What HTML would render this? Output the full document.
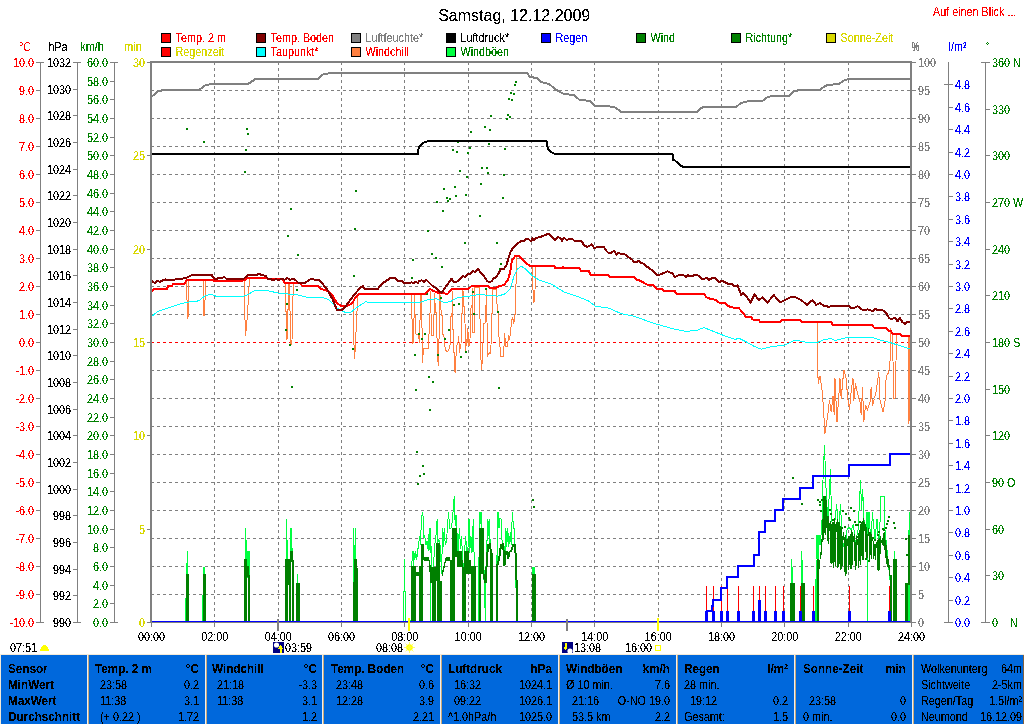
<!DOCTYPE html>
<html><head><meta charset="utf-8"><title>Samstag, 12.12.2009</title>
<style>html,body{margin:0;padding:0;background:#fff;overflow:hidden}svg{display:block}text{font-family:"Liberation Sans",sans-serif;}</style></head><body>
<svg width="1024" height="724" viewBox="0 0 1024 724" shape-rendering="crispEdges">
<rect x="0.0" y="0.0" width="1024.0" height="724.0" fill="#fff" />
<defs><filter id="cr" x="0" y="0" width="1024" height="724" filterUnits="userSpaceOnUse" color-interpolation-filters="sRGB"><feComponentTransfer><feFuncA type="discrete" tableValues="0 0 0 0 0 0 0 0 0 0 0 0 0 0 0 0 0 0 0 0 0 1 1 1 1 1 1 1 1 1 1 1 1 1 1 1 1 1 1 1 1 1 1 1 1 1 1 1 1 1"/></feComponentTransfer></filter></defs>
<rect x="161.5" y="33.5" width="9" height="9" fill="#ff0000" stroke="#000" stroke-width="1"/>
<rect x="161.5" y="47.5" width="9" height="9" fill="#ff0000" stroke="#000" stroke-width="1"/>
<rect x="256.5" y="33.5" width="9" height="9" fill="#800000" stroke="#000" stroke-width="1"/>
<rect x="256.5" y="47.5" width="9" height="9" fill="#00ffff" stroke="#000" stroke-width="1"/>
<rect x="351.5" y="33.5" width="9" height="9" fill="#808080" stroke="#000" stroke-width="1"/>
<rect x="351.5" y="47.5" width="9" height="9" fill="#ff8040" stroke="#000" stroke-width="1"/>
<rect x="446.5" y="33.5" width="9" height="9" fill="#000" stroke="#000" stroke-width="1"/>
<rect x="446.5" y="47.5" width="9" height="9" fill="#00ff40" stroke="#000" stroke-width="1"/>
<rect x="541.5" y="33.5" width="9" height="9" fill="#0000ff" stroke="#000" stroke-width="1"/>
<rect x="636.5" y="33.5" width="9" height="9" fill="#008000" stroke="#000" stroke-width="1"/>
<rect x="731.5" y="33.5" width="9" height="9" fill="#008000" stroke="#000" stroke-width="1"/>
<rect x="826.5" y="33.5" width="9" height="9" fill="#d8d800" stroke="#000" stroke-width="1"/>
<rect x="987.0" y="42.0" width="1.0" height="1.0" fill="#008000" />
<rect x="986.0" y="43.0" width="1.0" height="1.0" fill="#008000" />
<rect x="988.0" y="43.0" width="1.0" height="1.0" fill="#008000" />
<rect x="987.0" y="44.0" width="1.0" height="1.0" fill="#008000" />
<rect x="40.0" y="62.0" width="1.0" height="561.0" fill="#808080" />
<rect x="36.0" y="62.0" width="8.0" height="1.0" fill="#808080" />
<rect x="36.0" y="90.0" width="4.0" height="1.0" fill="#808080" />
<rect x="36.0" y="118.0" width="4.0" height="1.0" fill="#808080" />
<rect x="36.0" y="146.0" width="4.0" height="1.0" fill="#808080" />
<rect x="36.0" y="174.0" width="4.0" height="1.0" fill="#808080" />
<rect x="36.0" y="202.0" width="4.0" height="1.0" fill="#808080" />
<rect x="36.0" y="230.0" width="4.0" height="1.0" fill="#808080" />
<rect x="36.0" y="258.0" width="4.0" height="1.0" fill="#808080" />
<rect x="36.0" y="286.0" width="4.0" height="1.0" fill="#808080" />
<rect x="36.0" y="314.0" width="4.0" height="1.0" fill="#808080" />
<rect x="36.0" y="342.0" width="4.0" height="1.0" fill="#808080" />
<rect x="36.0" y="370.0" width="4.0" height="1.0" fill="#808080" />
<rect x="36.0" y="398.0" width="4.0" height="1.0" fill="#808080" />
<rect x="36.0" y="426.0" width="4.0" height="1.0" fill="#808080" />
<rect x="36.0" y="454.0" width="4.0" height="1.0" fill="#808080" />
<rect x="36.0" y="482.0" width="4.0" height="1.0" fill="#808080" />
<rect x="36.0" y="510.0" width="4.0" height="1.0" fill="#808080" />
<rect x="36.0" y="538.0" width="4.0" height="1.0" fill="#808080" />
<rect x="36.0" y="566.0" width="4.0" height="1.0" fill="#808080" />
<rect x="36.0" y="594.0" width="4.0" height="1.0" fill="#808080" />
<rect x="36.0" y="622.0" width="8.0" height="1.0" fill="#808080" />
<rect x="77.0" y="62.0" width="1.0" height="561.0" fill="#808080" />
<rect x="73.0" y="62.0" width="8.0" height="1.0" fill="#808080" />
<rect x="73.0" y="89.0" width="4.0" height="1.0" fill="#808080" />
<rect x="73.0" y="115.0" width="4.0" height="1.0" fill="#808080" />
<rect x="73.0" y="142.0" width="4.0" height="1.0" fill="#808080" />
<rect x="73.0" y="169.0" width="4.0" height="1.0" fill="#808080" />
<rect x="73.0" y="195.0" width="4.0" height="1.0" fill="#808080" />
<rect x="73.0" y="222.0" width="4.0" height="1.0" fill="#808080" />
<rect x="73.0" y="249.0" width="4.0" height="1.0" fill="#808080" />
<rect x="73.0" y="275.0" width="4.0" height="1.0" fill="#808080" />
<rect x="73.0" y="302.0" width="4.0" height="1.0" fill="#808080" />
<rect x="73.0" y="329.0" width="4.0" height="1.0" fill="#808080" />
<rect x="73.0" y="355.0" width="4.0" height="1.0" fill="#808080" />
<rect x="73.0" y="382.0" width="4.0" height="1.0" fill="#808080" />
<rect x="73.0" y="409.0" width="4.0" height="1.0" fill="#808080" />
<rect x="73.0" y="435.0" width="4.0" height="1.0" fill="#808080" />
<rect x="73.0" y="462.0" width="4.0" height="1.0" fill="#808080" />
<rect x="73.0" y="489.0" width="4.0" height="1.0" fill="#808080" />
<rect x="73.0" y="515.0" width="4.0" height="1.0" fill="#808080" />
<rect x="73.0" y="542.0" width="4.0" height="1.0" fill="#808080" />
<rect x="73.0" y="569.0" width="4.0" height="1.0" fill="#808080" />
<rect x="73.0" y="595.0" width="4.0" height="1.0" fill="#808080" />
<rect x="73.0" y="622.0" width="8.0" height="1.0" fill="#808080" />
<rect x="114.0" y="62.0" width="1.0" height="561.0" fill="#808080" />
<rect x="110.0" y="62.0" width="8.0" height="1.0" fill="#808080" />
<rect x="110.0" y="81.0" width="4.0" height="1.0" fill="#808080" />
<rect x="110.0" y="99.0" width="4.0" height="1.0" fill="#808080" />
<rect x="110.0" y="118.0" width="4.0" height="1.0" fill="#808080" />
<rect x="110.0" y="137.0" width="4.0" height="1.0" fill="#808080" />
<rect x="110.0" y="155.0" width="4.0" height="1.0" fill="#808080" />
<rect x="110.0" y="174.0" width="4.0" height="1.0" fill="#808080" />
<rect x="110.0" y="193.0" width="4.0" height="1.0" fill="#808080" />
<rect x="110.0" y="211.0" width="4.0" height="1.0" fill="#808080" />
<rect x="110.0" y="230.0" width="4.0" height="1.0" fill="#808080" />
<rect x="110.0" y="249.0" width="4.0" height="1.0" fill="#808080" />
<rect x="110.0" y="267.0" width="4.0" height="1.0" fill="#808080" />
<rect x="110.0" y="286.0" width="4.0" height="1.0" fill="#808080" />
<rect x="110.0" y="305.0" width="4.0" height="1.0" fill="#808080" />
<rect x="110.0" y="323.0" width="4.0" height="1.0" fill="#808080" />
<rect x="110.0" y="342.0" width="4.0" height="1.0" fill="#808080" />
<rect x="110.0" y="361.0" width="4.0" height="1.0" fill="#808080" />
<rect x="110.0" y="379.0" width="4.0" height="1.0" fill="#808080" />
<rect x="110.0" y="398.0" width="4.0" height="1.0" fill="#808080" />
<rect x="110.0" y="417.0" width="4.0" height="1.0" fill="#808080" />
<rect x="110.0" y="435.0" width="4.0" height="1.0" fill="#808080" />
<rect x="110.0" y="454.0" width="4.0" height="1.0" fill="#808080" />
<rect x="110.0" y="473.0" width="4.0" height="1.0" fill="#808080" />
<rect x="110.0" y="491.0" width="4.0" height="1.0" fill="#808080" />
<rect x="110.0" y="510.0" width="4.0" height="1.0" fill="#808080" />
<rect x="110.0" y="529.0" width="4.0" height="1.0" fill="#808080" />
<rect x="110.0" y="547.0" width="4.0" height="1.0" fill="#808080" />
<rect x="110.0" y="566.0" width="4.0" height="1.0" fill="#808080" />
<rect x="110.0" y="585.0" width="4.0" height="1.0" fill="#808080" />
<rect x="110.0" y="603.0" width="4.0" height="1.0" fill="#808080" />
<rect x="110.0" y="622.0" width="8.0" height="1.0" fill="#808080" />
<rect x="147.0" y="62.0" width="3.0" height="1.0" fill="#808080" />
<rect x="147.0" y="155.0" width="3.0" height="1.0" fill="#808080" />
<rect x="147.0" y="249.0" width="3.0" height="1.0" fill="#808080" />
<rect x="147.0" y="342.0" width="3.0" height="1.0" fill="#808080" />
<rect x="147.0" y="435.0" width="3.0" height="1.0" fill="#808080" />
<rect x="147.0" y="529.0" width="3.0" height="1.0" fill="#808080" />
<rect x="147.0" y="622.0" width="3.0" height="1.0" fill="#808080" />
<rect x="912.0" y="62.0" width="4.0" height="1.0" fill="#808080" />
<rect x="912.0" y="90.0" width="4.0" height="1.0" fill="#808080" />
<rect x="912.0" y="118.0" width="4.0" height="1.0" fill="#808080" />
<rect x="912.0" y="146.0" width="4.0" height="1.0" fill="#808080" />
<rect x="912.0" y="174.0" width="4.0" height="1.0" fill="#808080" />
<rect x="912.0" y="202.0" width="4.0" height="1.0" fill="#808080" />
<rect x="912.0" y="230.0" width="4.0" height="1.0" fill="#808080" />
<rect x="912.0" y="258.0" width="4.0" height="1.0" fill="#808080" />
<rect x="912.0" y="286.0" width="4.0" height="1.0" fill="#808080" />
<rect x="912.0" y="314.0" width="4.0" height="1.0" fill="#808080" />
<rect x="912.0" y="342.0" width="4.0" height="1.0" fill="#808080" />
<rect x="912.0" y="370.0" width="4.0" height="1.0" fill="#808080" />
<rect x="912.0" y="398.0" width="4.0" height="1.0" fill="#808080" />
<rect x="912.0" y="426.0" width="4.0" height="1.0" fill="#808080" />
<rect x="912.0" y="454.0" width="4.0" height="1.0" fill="#808080" />
<rect x="912.0" y="482.0" width="4.0" height="1.0" fill="#808080" />
<rect x="912.0" y="510.0" width="4.0" height="1.0" fill="#808080" />
<rect x="912.0" y="538.0" width="4.0" height="1.0" fill="#808080" />
<rect x="912.0" y="566.0" width="4.0" height="1.0" fill="#808080" />
<rect x="912.0" y="594.0" width="4.0" height="1.0" fill="#808080" />
<rect x="912.0" y="622.0" width="4.0" height="1.0" fill="#808080" />
<rect x="948.0" y="62.0" width="1.0" height="561.0" fill="#808080" />
<rect x="944.0" y="84.0" width="9.0" height="1.0" fill="#808080" />
<rect x="949.0" y="107.0" width="4.0" height="1.0" fill="#808080" />
<rect x="949.0" y="129.0" width="4.0" height="1.0" fill="#808080" />
<rect x="949.0" y="152.0" width="4.0" height="1.0" fill="#808080" />
<rect x="949.0" y="174.0" width="4.0" height="1.0" fill="#808080" />
<rect x="949.0" y="196.0" width="4.0" height="1.0" fill="#808080" />
<rect x="949.0" y="219.0" width="4.0" height="1.0" fill="#808080" />
<rect x="949.0" y="241.0" width="4.0" height="1.0" fill="#808080" />
<rect x="949.0" y="264.0" width="4.0" height="1.0" fill="#808080" />
<rect x="949.0" y="286.0" width="4.0" height="1.0" fill="#808080" />
<rect x="949.0" y="308.0" width="4.0" height="1.0" fill="#808080" />
<rect x="949.0" y="331.0" width="4.0" height="1.0" fill="#808080" />
<rect x="949.0" y="353.0" width="4.0" height="1.0" fill="#808080" />
<rect x="949.0" y="376.0" width="4.0" height="1.0" fill="#808080" />
<rect x="949.0" y="398.0" width="4.0" height="1.0" fill="#808080" />
<rect x="949.0" y="420.0" width="4.0" height="1.0" fill="#808080" />
<rect x="949.0" y="443.0" width="4.0" height="1.0" fill="#808080" />
<rect x="949.0" y="465.0" width="4.0" height="1.0" fill="#808080" />
<rect x="949.0" y="488.0" width="4.0" height="1.0" fill="#808080" />
<rect x="949.0" y="510.0" width="4.0" height="1.0" fill="#808080" />
<rect x="949.0" y="532.0" width="4.0" height="1.0" fill="#808080" />
<rect x="949.0" y="555.0" width="4.0" height="1.0" fill="#808080" />
<rect x="949.0" y="577.0" width="4.0" height="1.0" fill="#808080" />
<rect x="949.0" y="600.0" width="4.0" height="1.0" fill="#808080" />
<rect x="944.0" y="622.0" width="9.0" height="1.0" fill="#808080" />
<rect x="985.0" y="62.0" width="1.0" height="561.0" fill="#808080" />
<rect x="981.0" y="62.0" width="9.0" height="1.0" fill="#808080" />
<rect x="986.0" y="109.0" width="4.0" height="1.0" fill="#808080" />
<rect x="986.0" y="155.0" width="4.0" height="1.0" fill="#808080" />
<rect x="986.0" y="202.0" width="4.0" height="1.0" fill="#808080" />
<rect x="986.0" y="249.0" width="4.0" height="1.0" fill="#808080" />
<rect x="986.0" y="295.0" width="4.0" height="1.0" fill="#808080" />
<rect x="986.0" y="342.0" width="4.0" height="1.0" fill="#808080" />
<rect x="986.0" y="389.0" width="4.0" height="1.0" fill="#808080" />
<rect x="986.0" y="435.0" width="4.0" height="1.0" fill="#808080" />
<rect x="986.0" y="482.0" width="4.0" height="1.0" fill="#808080" />
<rect x="986.0" y="529.0" width="4.0" height="1.0" fill="#808080" />
<rect x="986.0" y="575.0" width="4.0" height="1.0" fill="#808080" />
<rect x="981.0" y="622.0" width="9.0" height="1.0" fill="#808080" />
<g>
<line x1="214.5" y1="62" x2="214.5" y2="622" stroke="#808080" stroke-width="1" stroke-dasharray="3 3"/>
<line x1="278.5" y1="62" x2="278.5" y2="622" stroke="#808080" stroke-width="1" stroke-dasharray="3 3"/>
<line x1="341.5" y1="62" x2="341.5" y2="622" stroke="#808080" stroke-width="1" stroke-dasharray="3 3"/>
<line x1="404.5" y1="62" x2="404.5" y2="622" stroke="#808080" stroke-width="1" stroke-dasharray="3 3"/>
<line x1="468.5" y1="62" x2="468.5" y2="622" stroke="#808080" stroke-width="1" stroke-dasharray="3 3"/>
<line x1="531.5" y1="62" x2="531.5" y2="622" stroke="#808080" stroke-width="1" stroke-dasharray="3 3"/>
<line x1="594.5" y1="62" x2="594.5" y2="622" stroke="#808080" stroke-width="1" stroke-dasharray="3 3"/>
<line x1="658.5" y1="62" x2="658.5" y2="622" stroke="#808080" stroke-width="1" stroke-dasharray="3 3"/>
<line x1="721.5" y1="62" x2="721.5" y2="622" stroke="#808080" stroke-width="1" stroke-dasharray="3 3"/>
<line x1="784.5" y1="62" x2="784.5" y2="622" stroke="#808080" stroke-width="1" stroke-dasharray="3 3"/>
<line x1="848.5" y1="62" x2="848.5" y2="622" stroke="#808080" stroke-width="1" stroke-dasharray="3 3"/>
<line x1="151" y1="90.5" x2="912" y2="90.5" stroke="#808080" stroke-width="1" stroke-dasharray="3 3"/>
<line x1="151" y1="118.5" x2="912" y2="118.5" stroke="#808080" stroke-width="1" stroke-dasharray="3 3"/>
<line x1="151" y1="146.5" x2="912" y2="146.5" stroke="#808080" stroke-width="1" stroke-dasharray="3 3"/>
<line x1="151" y1="174.5" x2="912" y2="174.5" stroke="#808080" stroke-width="1" stroke-dasharray="3 3"/>
<line x1="151" y1="202.5" x2="912" y2="202.5" stroke="#808080" stroke-width="1" stroke-dasharray="3 3"/>
<line x1="151" y1="230.5" x2="912" y2="230.5" stroke="#808080" stroke-width="1" stroke-dasharray="3 3"/>
<line x1="151" y1="258.5" x2="912" y2="258.5" stroke="#808080" stroke-width="1" stroke-dasharray="3 3"/>
<line x1="151" y1="286.5" x2="912" y2="286.5" stroke="#808080" stroke-width="1" stroke-dasharray="3 3"/>
<line x1="151" y1="314.5" x2="912" y2="314.5" stroke="#808080" stroke-width="1" stroke-dasharray="3 3"/>
<line x1="151" y1="370.5" x2="912" y2="370.5" stroke="#808080" stroke-width="1" stroke-dasharray="3 3"/>
<line x1="151" y1="398.5" x2="912" y2="398.5" stroke="#808080" stroke-width="1" stroke-dasharray="3 3"/>
<line x1="151" y1="426.5" x2="912" y2="426.5" stroke="#808080" stroke-width="1" stroke-dasharray="3 3"/>
<line x1="151" y1="454.5" x2="912" y2="454.5" stroke="#808080" stroke-width="1" stroke-dasharray="3 3"/>
<line x1="151" y1="482.5" x2="912" y2="482.5" stroke="#808080" stroke-width="1" stroke-dasharray="3 3"/>
<line x1="151" y1="510.5" x2="912" y2="510.5" stroke="#808080" stroke-width="1" stroke-dasharray="3 3"/>
<line x1="151" y1="538.5" x2="912" y2="538.5" stroke="#808080" stroke-width="1" stroke-dasharray="3 3"/>
<line x1="151" y1="566.5" x2="912" y2="566.5" stroke="#808080" stroke-width="1" stroke-dasharray="3 3"/>
<line x1="151" y1="594.5" x2="912" y2="594.5" stroke="#808080" stroke-width="1" stroke-dasharray="3 3"/>
<line x1="151" y1="342.5" x2="912" y2="342.5" stroke="#ff0000" stroke-width="1" stroke-dasharray="3 3"/>
<polyline points="411.0,621.0 411.8,566.2 412.4,551.0 413.3,566.2 413.7,551.0 414.9,559.5 415.6,551.0 416.8,559.5 417.5,551.0 418.7,545.2 419.4,535.7 420.6,545.2 421.3,518.6 422.5,511.9 423.6,520.5 424.0,537.6 424.8,535.7 425.9,545.2 427.0,541.4 428.2,551.0 429.3,528.1 430.1,552.9 430.5,528.1 431.6,566.2 432.8,587.1 433.5,566.2 434.7,545.2 435.8,537.6 437.1,519.5 437.7,543.3 439.0,539.5 440.4,547.1 441.5,573.8 442.7,528.1 443.4,547.1 444.2,528.1 445.3,545.2 446.5,541.4 447.6,524.3 448.6,511.9 449.5,528.1 451.0,528.1 452.4,520.5 454.3,495.7 455.2,526.2 456.0,514.8 456.8,528.1 457.9,552.9 459.4,528.1 460.6,549.0 461.3,535.7 462.5,552.9 463.2,585.2 464.4,552.9 465.7,535.7 466.7,551.0 467.8,552.9 469.0,518.6 469.7,552.9 470.9,535.7 472.0,552.9 473.3,518.6 474.3,566.2 475.8,621.0 478.5,621.0 478.9,566.2 479.6,511.9 480.8,514.8 481.9,528.1 483.0,545.2 483.8,573.8 485.0,606.2 485.7,585.2 486.9,545.2 487.6,518.6 488.4,535.7 489.1,518.6 490.3,545.2 491.4,552.9 493.0,621.0 496.8,621.0 497.1,559.5 498.1,511.9 499.0,524.3 500.0,528.1" fill="none" stroke="#00ff40" stroke-width="1" />
<polyline points="480.0,524.3 481.0,511.9 481.9,528.1 484.2,573.8 485.3,621.0 485.3,585.2 486.5,552.9 487.2,535.7 487.6,518.6 488.4,533.8 489.1,518.6 489.9,545.2 491.4,552.9 492.6,621.0 496.4,621.0 496.8,573.8 497.5,511.9 498.7,528.1 499.8,518.6 501.0,518.6 502.1,541.4 503.6,544.3 505.1,551.0 505.9,528.1 506.7,547.1 507.8,528.1 508.6,547.1 509.7,539.5 510.5,531.9 511.2,545.2 512.4,511.9 513.5,528.1 514.3,528.1 515.0,544.3 515.8,585.2 516.2,591.0" fill="none" stroke="#00ff40" stroke-width="1" />
<polyline points="816.0,621.0 816.0,560.0 817.0,535.0 818.0,560.0 819.0,535.0 820.0,545.0 821.0,535.0 822.0,520.0 823.0,480.0 824.5,445.0 825.5,475.0 826.5,500.0 828.0,520.0 830.5,469.0 831.5,520.0 834.0,530.0 836.7,504.0 838.5,530.0 840.6,504.0 842.0,540.0 845.0,550.0 847.0,530.0 849.0,527.0 851.0,530.0 853.6,524.0 855.0,545.0 858.0,530.0 860.6,480.0 861.5,510.0 862.7,489.0 864.0,520.0 866.0,530.0 867.0,512.0 867.5,621.0 867.5,540.0 869.0,512.0 871.0,545.0 872.4,512.0 875.0,540.0 877.0,519.0 879.0,550.0 881.0,496.0 884.0,496.0 885.0,530.0 888.0,560.0 890.0,580.0" fill="none" stroke="#00ff40" stroke-width="1" />
<rect x="185.0" y="598.0" width="1.0" height="23.0" fill="#00ff40" />
<rect x="186.0" y="563.0" width="1.0" height="58.0" fill="#00ff40" />
<rect x="187.0" y="551.0" width="1.0" height="70.0" fill="#00ff40" />
<rect x="202.0" y="595.0" width="1.0" height="26.0" fill="#00ff40" />
<rect x="203.0" y="567.0" width="1.0" height="54.0" fill="#00ff40" />
<rect x="204.0" y="567.0" width="1.0" height="54.0" fill="#00ff40" />
<rect x="245.0" y="528.0" width="1.0" height="93.0" fill="#00ff40" />
<rect x="246.0" y="540.0" width="1.0" height="81.0" fill="#00ff40" />
<rect x="247.0" y="551.0" width="1.0" height="70.0" fill="#00ff40" />
<rect x="248.0" y="551.0" width="1.0" height="70.0" fill="#00ff40" />
<rect x="249.0" y="551.0" width="1.0" height="70.0" fill="#00ff40" />
<rect x="286.0" y="519.0" width="1.0" height="102.0" fill="#00ff40" />
<rect x="287.0" y="540.0" width="1.0" height="81.0" fill="#00ff40" />
<rect x="290.0" y="528.0" width="1.0" height="93.0" fill="#00ff40" />
<rect x="291.0" y="528.0" width="1.0" height="93.0" fill="#00ff40" />
<rect x="292.0" y="548.0" width="1.0" height="73.0" fill="#00ff40" />
<rect x="297.0" y="574.0" width="1.0" height="47.0" fill="#00ff40" />
<rect x="353.0" y="528.0" width="1.0" height="93.0" fill="#00ff40" />
<rect x="354.0" y="545.0" width="1.0" height="76.0" fill="#00ff40" />
<rect x="355.0" y="528.0" width="1.0" height="93.0" fill="#00ff40" />
<rect x="403.0" y="591.0" width="1.0" height="30.0" fill="#00ff40" />
<rect x="404.0" y="559.0" width="1.0" height="62.0" fill="#00ff40" />
<rect x="405.0" y="591.0" width="1.0" height="30.0" fill="#00ff40" />
<rect x="532.0" y="567.0" width="1.0" height="54.0" fill="#00ff40" />
<rect x="534.0" y="567.0" width="1.0" height="54.0" fill="#00ff40" />
<rect x="533.0" y="567.0" width="1.0" height="54.0" fill="#00ff40" />
<rect x="790.0" y="591.0" width="1.0" height="30.0" fill="#00ff40" />
<rect x="791.0" y="559.0" width="1.0" height="62.0" fill="#00ff40" />
<rect x="792.0" y="567.0" width="1.0" height="54.0" fill="#00ff40" />
<rect x="800.0" y="587.0" width="1.0" height="34.0" fill="#00ff40" />
<rect x="801.0" y="551.0" width="1.0" height="70.0" fill="#00ff40" />
<rect x="802.0" y="560.0" width="1.0" height="61.0" fill="#00ff40" />
<rect x="815.0" y="579.0" width="1.0" height="42.0" fill="#00ff40" />
<rect x="430.0" y="583.0" width="1.0" height="38.0" fill="#00ff40" />
<rect x="894.0" y="551.0" width="1.0" height="70.0" fill="#00ff40" />
<rect x="909.0" y="512.0" width="1.0" height="109.0" fill="#00ff40" />
<rect x="908.0" y="530.0" width="1.0" height="91.0" fill="#00ff40" />
<rect x="867.0" y="540.0" width="1.0" height="81.0" fill="#00ff40" />
<rect x="186.0" y="574.0" width="3.0" height="47.0" fill="#008000" />
<rect x="203.0" y="574.0" width="3.0" height="47.0" fill="#008000" />
<rect x="244.0" y="559.0" width="3.0" height="62.0" fill="#008000" />
<rect x="248.0" y="575.0" width="2.0" height="46.0" fill="#008000" />
<rect x="247.0" y="566.0" width="2.0" height="11.0" fill="#008000" />
<rect x="285.0" y="559.0" width="6.0" height="62.0" fill="#008000" />
<rect x="289.5" y="551.0" width="3.5" height="70.0" fill="#008000" />
<rect x="292.5" y="560.0" width="1.5" height="61.0" fill="#008000" />
<rect x="296.0" y="583.0" width="4.0" height="38.0" fill="#008000" />
<rect x="353.0" y="582.0" width="1.0" height="39.0" fill="#008000" />
<rect x="354.0" y="559.0" width="2.5" height="62.0" fill="#008000" />
<rect x="357.0" y="568.0" width="1.0" height="53.0" fill="#008000" />
<rect x="532.0" y="574.0" width="4.0" height="47.0" fill="#008000" />
<rect x="790.0" y="582.5" width="5.0" height="38.5" fill="#008000" />
<rect x="801.0" y="583.0" width="3.5" height="38.0" fill="#008000" />
<rect x="411.0" y="566.0" width="1.0" height="55.0" fill="#008000" />
<rect x="412.0" y="566.0" width="1.0" height="55.0" fill="#008000" />
<rect x="413.0" y="566.0" width="1.0" height="55.0" fill="#008000" />
<rect x="414.0" y="566.0" width="1.0" height="55.0" fill="#008000" />
<rect x="415.0" y="566.0" width="1.0" height="55.0" fill="#008000" />
<rect x="416.0" y="572.0" width="1.0" height="4.0" fill="#008000" />
<rect x="417.0" y="572.0" width="1.0" height="4.0" fill="#008000" />
<rect x="418.0" y="572.0" width="1.0" height="4.0" fill="#008000" />
<rect x="419.0" y="566.0" width="1.0" height="55.0" fill="#008000" />
<rect x="420.0" y="566.0" width="1.0" height="55.0" fill="#008000" />
<rect x="421.0" y="544.0" width="1.0" height="77.0" fill="#008000" />
<rect x="422.0" y="544.0" width="1.0" height="77.0" fill="#008000" />
<rect x="423.0" y="544.0" width="1.0" height="16.0" fill="#008000" />
<rect x="424.0" y="557.0" width="1.0" height="4.0" fill="#008000" />
<rect x="425.0" y="557.0" width="1.0" height="4.0" fill="#008000" />
<rect x="426.0" y="557.0" width="1.0" height="4.0" fill="#008000" />
<rect x="427.0" y="557.0" width="1.0" height="4.0" fill="#008000" />
<rect x="428.0" y="557.0" width="1.0" height="4.0" fill="#008000" />
<rect x="429.0" y="560.0" width="1.0" height="12.0" fill="#008000" />
<rect x="430.0" y="565.0" width="1.0" height="18.0" fill="#008000" />
<rect x="431.0" y="567.0" width="1.0" height="16.0" fill="#008000" />
<rect x="432.0" y="567.0" width="1.0" height="54.0" fill="#008000" />
<rect x="433.0" y="567.0" width="1.0" height="54.0" fill="#008000" />
<rect x="434.0" y="567.0" width="1.0" height="54.0" fill="#008000" />
<rect x="435.0" y="567.0" width="1.0" height="54.0" fill="#008000" />
<rect x="436.0" y="543.0" width="1.0" height="78.0" fill="#008000" />
<rect x="437.0" y="543.0" width="1.0" height="78.0" fill="#008000" />
<rect x="438.0" y="543.0" width="1.0" height="78.0" fill="#008000" />
<rect x="439.0" y="543.0" width="1.0" height="78.0" fill="#008000" />
<rect x="440.0" y="581.0" width="1.0" height="40.0" fill="#008000" />
<rect x="441.0" y="581.0" width="1.0" height="40.0" fill="#008000" />
<rect x="442.0" y="570.0" width="1.0" height="6.0" fill="#008000" />
<rect x="443.0" y="566.0" width="1.0" height="6.0" fill="#008000" />
<rect x="444.0" y="562.0" width="1.0" height="6.0" fill="#008000" />
<rect x="445.0" y="558.0" width="1.0" height="5.0" fill="#008000" />
<rect x="446.0" y="557.0" width="1.0" height="4.0" fill="#008000" />
<rect x="447.0" y="557.0" width="1.0" height="4.0" fill="#008000" />
<rect x="448.0" y="557.0" width="1.0" height="4.0" fill="#008000" />
<rect x="449.0" y="557.0" width="1.0" height="4.0" fill="#008000" />
<rect x="450.0" y="560.0" width="1.0" height="61.0" fill="#008000" />
<rect x="451.0" y="560.0" width="1.0" height="61.0" fill="#008000" />
<rect x="452.0" y="528.0" width="1.0" height="93.0" fill="#008000" />
<rect x="453.0" y="528.0" width="1.0" height="93.0" fill="#008000" />
<rect x="454.0" y="528.0" width="1.0" height="93.0" fill="#008000" />
<rect x="455.0" y="528.0" width="1.0" height="29.0" fill="#008000" />
<rect x="456.0" y="528.0" width="1.0" height="29.0" fill="#008000" />
<rect x="457.0" y="551.0" width="1.0" height="16.0" fill="#008000" />
<rect x="458.0" y="551.0" width="1.0" height="16.0" fill="#008000" />
<rect x="459.0" y="551.0" width="1.0" height="16.0" fill="#008000" />
<rect x="460.0" y="551.0" width="1.0" height="16.0" fill="#008000" />
<rect x="461.0" y="551.0" width="1.0" height="16.0" fill="#008000" />
<rect x="462.0" y="560.0" width="1.0" height="61.0" fill="#008000" />
<rect x="463.0" y="567.0" width="1.0" height="54.0" fill="#008000" />
<rect x="464.0" y="551.0" width="1.0" height="70.0" fill="#008000" />
<rect x="465.0" y="551.0" width="1.0" height="70.0" fill="#008000" />
<rect x="466.0" y="551.0" width="1.0" height="23.0" fill="#008000" />
<rect x="467.0" y="551.0" width="1.0" height="23.0" fill="#008000" />
<rect x="468.0" y="551.0" width="1.0" height="23.0" fill="#008000" />
<rect x="469.0" y="560.0" width="1.0" height="14.0" fill="#008000" />
<rect x="470.0" y="560.0" width="1.0" height="14.0" fill="#008000" />
<rect x="471.0" y="566.0" width="1.0" height="55.0" fill="#008000" />
<rect x="472.0" y="566.0" width="1.0" height="55.0" fill="#008000" />
<rect x="473.0" y="566.0" width="1.0" height="55.0" fill="#008000" />
<rect x="474.0" y="566.0" width="1.0" height="55.0" fill="#008000" />
<rect x="475.0" y="566.0" width="1.0" height="55.0" fill="#008000" />
<rect x="479.0" y="528.0" width="1.0" height="93.0" fill="#008000" />
<rect x="480.0" y="528.0" width="1.0" height="93.0" fill="#008000" />
<rect x="481.0" y="528.0" width="1.0" height="46.0" fill="#008000" />
<rect x="482.0" y="528.0" width="1.0" height="46.0" fill="#008000" />
<rect x="483.0" y="528.0" width="1.0" height="46.0" fill="#008000" />
<rect x="490.0" y="544.0" width="1.0" height="77.0" fill="#008000" />
<rect x="491.0" y="553.0" width="1.0" height="68.0" fill="#008000" />
<rect x="492.0" y="553.0" width="1.0" height="68.0" fill="#008000" />
<rect x="496.0" y="566.0" width="1.0" height="55.0" fill="#008000" />
<rect x="497.0" y="566.0" width="1.0" height="55.0" fill="#008000" />
<rect x="817.0" y="559.0" width="1.0" height="62.0" fill="#008000" />
<rect x="818.0" y="559.0" width="1.0" height="62.0" fill="#008000" />
<rect x="819.0" y="560.0" width="1.0" height="9.0" fill="#008000" />
<rect x="820.0" y="552.0" width="1.0" height="7.0" fill="#008000" />
<rect x="821.0" y="539.0" width="1.0" height="16.0" fill="#008000" />
<rect x="822.0" y="519.0" width="1.0" height="23.0" fill="#008000" />
<rect x="823.0" y="496.0" width="1.0" height="44.0" fill="#008000" />
<rect x="824.0" y="496.0" width="1.0" height="37.0" fill="#008000" />
<rect x="825.0" y="496.0" width="1.0" height="39.0" fill="#008000" />
<rect x="826.0" y="500.0" width="1.0" height="28.0" fill="#008000" />
<rect x="827.0" y="517.0" width="1.0" height="24.0" fill="#008000" />
<rect x="828.0" y="518.0" width="1.0" height="26.0" fill="#008000" />
<rect x="829.0" y="523.0" width="1.0" height="8.0" fill="#008000" />
<rect x="830.0" y="521.0" width="1.0" height="42.0" fill="#008000" />
<rect x="831.0" y="524.0" width="1.0" height="40.0" fill="#008000" />
<rect x="832.0" y="522.0" width="1.0" height="41.0" fill="#008000" />
<rect x="833.0" y="522.0" width="1.0" height="46.0" fill="#008000" />
<rect x="834.0" y="518.0" width="1.0" height="44.0" fill="#008000" />
<rect x="835.0" y="524.0" width="1.0" height="42.0" fill="#008000" />
<rect x="836.0" y="522.0" width="1.0" height="10.0" fill="#008000" />
<rect x="837.0" y="519.0" width="1.0" height="49.0" fill="#008000" />
<rect x="838.0" y="522.0" width="1.0" height="45.0" fill="#008000" />
<rect x="839.0" y="522.0" width="1.0" height="42.0" fill="#008000" />
<rect x="840.0" y="526.0" width="1.0" height="44.0" fill="#008000" />
<rect x="841.0" y="529.0" width="1.0" height="40.0" fill="#008000" />
<rect x="842.0" y="536.0" width="1.0" height="30.0" fill="#008000" />
<rect x="843.0" y="532.0" width="1.0" height="8.0" fill="#008000" />
<rect x="844.0" y="537.0" width="1.0" height="35.0" fill="#008000" />
<rect x="845.0" y="535.0" width="1.0" height="41.0" fill="#008000" />
<rect x="846.0" y="539.0" width="1.0" height="35.0" fill="#008000" />
<rect x="847.0" y="539.0" width="1.0" height="7.0" fill="#008000" />
<rect x="848.0" y="536.0" width="1.0" height="34.0" fill="#008000" />
<rect x="849.0" y="536.0" width="1.0" height="29.0" fill="#008000" />
<rect x="850.0" y="534.0" width="1.0" height="35.0" fill="#008000" />
<rect x="851.0" y="530.0" width="1.0" height="39.0" fill="#008000" />
<rect x="852.0" y="532.0" width="1.0" height="33.0" fill="#008000" />
<rect x="853.0" y="536.0" width="1.0" height="6.0" fill="#008000" />
<rect x="854.0" y="534.0" width="1.0" height="27.0" fill="#008000" />
<rect x="855.0" y="542.0" width="1.0" height="28.0" fill="#008000" />
<rect x="856.0" y="536.0" width="1.0" height="30.0" fill="#008000" />
<rect x="857.0" y="539.0" width="1.0" height="6.0" fill="#008000" />
<rect x="858.0" y="533.0" width="1.0" height="35.0" fill="#008000" />
<rect x="859.0" y="530.0" width="1.0" height="31.0" fill="#008000" />
<rect x="860.0" y="524.0" width="1.0" height="41.0" fill="#008000" />
<rect x="861.0" y="522.0" width="1.0" height="34.0" fill="#008000" />
<rect x="862.0" y="521.0" width="1.0" height="39.0" fill="#008000" />
<rect x="863.0" y="518.0" width="1.0" height="42.0" fill="#008000" />
<rect x="864.0" y="522.0" width="1.0" height="9.0" fill="#008000" />
<rect x="865.0" y="524.0" width="1.0" height="28.0" fill="#008000" />
<rect x="866.0" y="527.0" width="1.0" height="31.0" fill="#008000" />
<rect x="867.0" y="534.0" width="1.0" height="24.0" fill="#008000" />
<rect x="868.0" y="528.0" width="1.0" height="8.0" fill="#008000" />
<rect x="869.0" y="532.0" width="1.0" height="29.0" fill="#008000" />
<rect x="870.0" y="532.0" width="1.0" height="23.0" fill="#008000" />
<rect x="871.0" y="534.0" width="1.0" height="25.0" fill="#008000" />
<rect x="872.0" y="538.0" width="1.0" height="3.0" fill="#008000" />
<rect x="873.0" y="541.0" width="1.0" height="18.0" fill="#008000" />
<rect x="874.0" y="544.0" width="1.0" height="12.0" fill="#008000" />
<rect x="875.0" y="544.0" width="1.0" height="16.0" fill="#008000" />
<rect x="876.0" y="543.0" width="1.0" height="5.0" fill="#008000" />
<rect x="877.0" y="540.0" width="1.0" height="30.0" fill="#008000" />
<rect x="878.0" y="539.0" width="1.0" height="32.0" fill="#008000" />
<rect x="879.0" y="538.0" width="1.0" height="32.0" fill="#008000" />
<rect x="880.0" y="536.0" width="1.0" height="18.0" fill="#008000" />
<rect x="881.0" y="540.0" width="1.0" height="3.0" fill="#008000" />
<rect x="882.0" y="538.0" width="1.0" height="7.0" fill="#008000" />
<rect x="883.0" y="533.0" width="1.0" height="13.0" fill="#008000" />
<rect x="884.0" y="532.0" width="1.0" height="18.0" fill="#008000" />
<rect x="885.0" y="540.0" width="1.0" height="18.0" fill="#008000" />
<rect x="886.0" y="545.0" width="1.0" height="19.0" fill="#008000" />
<rect x="887.0" y="556.0" width="1.0" height="11.0" fill="#008000" />
<rect x="888.0" y="559.0" width="1.0" height="9.0" fill="#008000" />
<rect x="889.0" y="565.0" width="1.0" height="11.0" fill="#008000" />
<rect x="890.0" y="575.0" width="1.0" height="46.0" fill="#008000" />
<rect x="891.0" y="575.0" width="1.0" height="46.0" fill="#008000" />
<rect x="893.0" y="559.0" width="1.0" height="62.0" fill="#008000" />
<rect x="894.0" y="559.0" width="1.0" height="62.0" fill="#008000" />
<rect x="895.0" y="559.0" width="1.0" height="62.0" fill="#008000" />
<rect x="896.0" y="559.0" width="1.0" height="62.0" fill="#008000" />
<rect x="905.0" y="583.0" width="1.0" height="38.0" fill="#008000" />
<rect x="906.0" y="583.0" width="1.0" height="38.0" fill="#008000" />
<rect x="907.0" y="583.0" width="1.0" height="38.0" fill="#008000" />
<rect x="908.0" y="535.0" width="1.0" height="50.0" fill="#008000" />
<rect x="909.0" y="535.0" width="1.0" height="50.0" fill="#008000" />
<rect x="910.0" y="535.0" width="1.0" height="50.0" fill="#008000" />
<polyline points="497.1,621.0 497.1,566.0 499.0,559.5 501.0,545.0 503.2,544.3 504.4,566.0 505.5,555.0 506.7,551.0 508.2,558.6 509.5,552.0 511.4,550.6 513.3,544.7 515.2,545.0 515.8,560.5 516.6,583.0 517.3,621.0" fill="none" stroke="#008000" stroke-width="2" />
<polyline points="482.5,560.0 483.5,574.0 485.5,583.0 487.0,560.0 488.0,545.0 490.0,544.0 491.0,553.0" fill="none" stroke="#008000" stroke-width="2" />
<rect x="288.0" y="585.0" width="1.0" height="36.0" fill="#fff" />
<rect x="291.0" y="562.0" width="1.0" height="59.0" fill="#fff" />
<rect x="247.0" y="578.0" width="1.0" height="43.0" fill="#fff" />
<rect x="356.5" y="570.0" width="0.5" height="51.0" fill="#fff" />
<rect x="404.0" y="592.0" width="1.0" height="29.0" fill="#fff" />
<rect x="436.0" y="581.0" width="1.0" height="40.0" fill="#fff" />
<rect x="706.0" y="586.0" width="1.0" height="25.0" fill="#ff0000" />
<rect x="713.0" y="586.0" width="1.0" height="25.0" fill="#ff0000" />
<rect x="721.0" y="586.0" width="1.0" height="25.0" fill="#ff0000" />
<rect x="727.0" y="586.0" width="1.0" height="25.0" fill="#ff0000" />
<rect x="738.0" y="586.0" width="1.0" height="25.0" fill="#ff0000" />
<rect x="753.0" y="586.0" width="1.0" height="25.0" fill="#ff0000" />
<rect x="759.0" y="586.0" width="1.0" height="25.0" fill="#ff0000" />
<rect x="765.0" y="586.0" width="1.0" height="25.0" fill="#ff0000" />
<rect x="775.0" y="586.0" width="1.0" height="25.0" fill="#ff0000" />
<rect x="783.0" y="586.0" width="1.0" height="25.0" fill="#ff0000" />
<rect x="800.0" y="586.0" width="1.0" height="25.0" fill="#ff0000" />
<rect x="813.0" y="586.0" width="1.0" height="25.0" fill="#ff0000" />
<rect x="849.0" y="586.0" width="1.0" height="25.0" fill="#ff0000" />
<rect x="889.0" y="586.0" width="1.0" height="25.0" fill="#ff0000" />
<rect x="705.0" y="610.5" width="3.0" height="10.5" fill="#0000ff" />
<rect x="712.0" y="610.5" width="3.0" height="10.5" fill="#0000ff" />
<rect x="720.0" y="610.5" width="3.0" height="10.5" fill="#0000ff" />
<rect x="726.0" y="610.5" width="3.0" height="10.5" fill="#0000ff" />
<rect x="737.0" y="610.5" width="3.0" height="10.5" fill="#0000ff" />
<rect x="752.0" y="610.5" width="3.0" height="10.5" fill="#0000ff" />
<rect x="758.0" y="599.6" width="3.0" height="21.4" fill="#0000ff" />
<rect x="764.0" y="610.5" width="3.0" height="10.5" fill="#0000ff" />
<rect x="774.0" y="610.5" width="3.0" height="10.5" fill="#0000ff" />
<rect x="782.0" y="610.5" width="3.0" height="10.5" fill="#0000ff" />
<rect x="799.0" y="610.5" width="3.0" height="10.5" fill="#0000ff" />
<rect x="812.0" y="610.5" width="3.0" height="10.5" fill="#0000ff" />
<rect x="848.0" y="610.5" width="3.0" height="10.5" fill="#0000ff" />
<rect x="888.0" y="610.5" width="3.0" height="10.5" fill="#0000ff" />
<polyline points="186.5,281.0 187.0,300.0 188.0,318.8 188.5,281.0" fill="none" stroke="#ff8040" stroke-width="1" />
<polyline points="203.0,281.0 203.0,305.0 204.0,315.8 205.0,300.0 205.0,281.0" fill="none" stroke="#ff8040" stroke-width="1" />
<polyline points="244.2,280.0 244.2,296.0 245.0,320.0 245.5,335.5 246.5,327.5 248.0,305.0 249.5,278.0" fill="none" stroke="#ff8040" stroke-width="1" />
<polyline points="285.0,283.0 285.0,310.0 286.5,312.0 286.8,338.8 287.8,338.0 288.0,310.0 288.5,283.0 289.5,283.0 289.5,310.0 290.5,312.0 290.8,346.2 292.0,340.0 292.5,310.0 293.5,283.0" fill="none" stroke="#ff8040" stroke-width="1" />
<polyline points="353.0,303.0 353.0,330.0 354.0,345.0 354.5,358.8 355.5,345.0 356.5,320.0 358.0,295.0" fill="none" stroke="#ff8040" stroke-width="1" />
<polyline points="404.0,294.0 411.2,294.0 411.5,318.4 412.5,319.6 412.8,343.4 413.5,342.8 413.8,320.2 414.5,314.0 414.5,294.6 414.8,314.0 415.5,315.9 415.5,334.0 418.5,334.2 419.0,339.0 419.5,343.4 419.8,320.2 420.5,319.0 420.8,294.6 421.2,294.0 421.5,326.5 422.5,329.0 422.8,363.4 423.2,348.4 428.5,348.4 428.8,342.8 429.5,313.4 430.5,312.8 430.8,291.5 431.0,312.8 431.5,335.9 433.5,335.9 433.8,314.0 434.5,313.4 434.8,293.4 435.2,312.1 436.5,312.8 437.2,347.1 438.2,365.9 438.8,349.0 439.2,330.2 439.8,294.0 440.5,296.5 441.2,314.6 442.2,315.9 442.8,334.0 444.2,337.8 445.2,349.0 446.5,351.5 448.5,350.9 450.2,344.0 451.0,316.5 452.0,314.6 452.2,291.5 452.8,329.0 453.8,331.5 454.2,371.5 455.2,372.1 455.8,359.0 456.8,345.2 458.0,342.1 458.5,336.5 459.0,342.1 459.8,353.4 460.2,345.2 461.0,344.0 461.5,314.0 462.5,313.4 463.0,290.2 463.5,305.9 464.8,307.1 465.2,337.8 465.8,353.4 466.2,339.0 467.0,344.0 467.5,327.8 468.0,331.5 469.0,345.9 470.0,339.0 471.0,307.8 472.2,305.2 472.5,287.8 473.0,332.8 474.5,332.8 474.8,287.8 475.5,287.8 479.8,287.1 479.8,319.0 480.5,320.2 481.0,359.6 481.8,370.2 482.2,359.0 483.0,342.8 483.5,324.0 485.2,322.8 486.0,305.2 486.5,287.8 486.5,321.5 487.0,321.5 487.5,356.5 489.0,352.8 490.2,353.4 491.0,345.2 491.5,314.0 492.5,313.4 492.8,289.6 496.5,289.6 497.1,306.5 498.0,311.5 498.0,332.8 499.0,336.5 499.6,341.5 500.2,349.0 500.9,356.5 503.4,356.5 504.0,345.9 504.8,333.4 505.2,342.8 505.9,346.5 507.5,346.5 508.0,341.5 508.8,335.2 509.6,340.2 510.2,334.0 511.0,327.1 511.8,320.2 512.8,317.1 513.5,323.4 514.5,320.2 515.0,314.6 515.9,314.0 516.0,284.0 516.0,257.0" fill="none" stroke="#ff8040" stroke-width="1" />
<polyline points="532.5,266.0 533.0,290.0 534.0,302.5 535.0,290.0 535.5,266.0" fill="none" stroke="#ff8040" stroke-width="1" />
<polyline points="817.5,322.0 817.5,361.0 818.2,383.5 820.0,376.0 822.5,393.5 825.0,433.5 827.5,417.2 829.5,399.8 831.2,412.2 833.0,396.0 834.2,414.8 835.0,378.5 837.0,422.2 840.0,378.5 841.2,398.5 843.8,369.8 846.2,378.5 847.5,396.0 849.5,409.8 851.2,391.0 853.0,378.5 853.8,401.0 855.5,383.5 857.5,393.5 860.0,402.2 861.2,414.8 862.5,387.2 863.8,422.2 865.5,404.8 867.5,409.8 870.0,402.2 871.2,387.2 872.5,406.0 874.5,398.5 876.2,391.0 878.8,372.2 880.0,399.8 883.2,412.2 885.0,401.0 886.2,376.0 888.8,372.2 890.0,361.0 890.0,328.0" fill="none" stroke="#ff8040" stroke-width="1" />
<polyline points="892.5,334.0 893.0,361.0 894.0,398.0 895.0,398.0 896.0,361.0 896.5,334.0" fill="none" stroke="#ff8040" stroke-width="1" />
<polyline points="908.5,336.0 909.0,423.5 909.5,336.0" fill="none" stroke="#ff8040" stroke-width="1" />
<rect x="186.0" y="128.0" width="2.0" height="2.0" fill="#008000" />
<rect x="203.0" y="141.0" width="2.0" height="2.0" fill="#008000" />
<rect x="246.0" y="128.0" width="2.0" height="2.0" fill="#008000" />
<rect x="247.0" y="133.0" width="2.0" height="2.0" fill="#008000" />
<rect x="245.0" y="149.0" width="2.0" height="2.0" fill="#008000" />
<rect x="244.0" y="171.0" width="2.0" height="2.0" fill="#008000" />
<rect x="515.0" y="81.0" width="2.0" height="2.0" fill="#008000" />
<rect x="514.0" y="84.0" width="2.0" height="2.0" fill="#008000" />
<rect x="510.0" y="92.0" width="2.0" height="2.0" fill="#008000" />
<rect x="513.0" y="93.0" width="2.0" height="2.0" fill="#008000" />
<rect x="508.0" y="98.0" width="2.0" height="2.0" fill="#008000" />
<rect x="511.0" y="99.0" width="2.0" height="2.0" fill="#008000" />
<rect x="490.0" y="115.0" width="2.0" height="2.0" fill="#008000" />
<rect x="507.0" y="114.0" width="2.0" height="2.0" fill="#008000" />
<rect x="509.0" y="116.0" width="2.0" height="2.0" fill="#008000" />
<rect x="506.0" y="118.0" width="2.0" height="2.0" fill="#008000" />
<rect x="484.0" y="126.0" width="2.0" height="2.0" fill="#008000" />
<rect x="489.0" y="129.0" width="2.0" height="2.0" fill="#008000" />
<rect x="470.0" y="131.0" width="2.0" height="2.0" fill="#008000" />
<rect x="457.0" y="141.0" width="2.0" height="2.0" fill="#008000" />
<rect x="488.0" y="143.0" width="2.0" height="2.0" fill="#008000" />
<rect x="452.0" y="149.0" width="2.0" height="2.0" fill="#008000" />
<rect x="469.0" y="147.0" width="2.0" height="2.0" fill="#008000" />
<rect x="504.0" y="148.0" width="2.0" height="2.0" fill="#008000" />
<rect x="456.0" y="151.0" width="2.0" height="2.0" fill="#008000" />
<rect x="467.0" y="152.0" width="2.0" height="2.0" fill="#008000" />
<rect x="481.0" y="167.0" width="2.0" height="2.0" fill="#008000" />
<rect x="486.0" y="167.0" width="2.0" height="2.0" fill="#008000" />
<rect x="459.0" y="170.0" width="2.0" height="2.0" fill="#008000" />
<rect x="487.0" y="172.0" width="2.0" height="2.0" fill="#008000" />
<rect x="503.0" y="174.0" width="2.0" height="2.0" fill="#008000" />
<rect x="466.0" y="176.0" width="2.0" height="2.0" fill="#008000" />
<rect x="355.0" y="190.0" width="2.0" height="2.0" fill="#008000" />
<rect x="290.0" y="208.0" width="2.0" height="2.0" fill="#008000" />
<rect x="354.0" y="228.0" width="2.0" height="2.0" fill="#008000" />
<rect x="287.0" y="235.0" width="2.0" height="2.0" fill="#008000" />
<rect x="297.0" y="254.0" width="2.0" height="2.0" fill="#008000" />
<rect x="353.0" y="275.0" width="2.0" height="2.0" fill="#008000" />
<rect x="296.0" y="289.0" width="2.0" height="2.0" fill="#008000" />
<rect x="286.0" y="303.0" width="2.0" height="2.0" fill="#008000" />
<rect x="285.0" y="329.0" width="2.0" height="2.0" fill="#008000" />
<rect x="289.0" y="344.0" width="2.0" height="2.0" fill="#008000" />
<rect x="352.0" y="348.0" width="2.0" height="2.0" fill="#008000" />
<rect x="480.0" y="183.0" width="2.0" height="2.0" fill="#008000" />
<rect x="454.0" y="186.0" width="2.0" height="2.0" fill="#008000" />
<rect x="443.0" y="188.0" width="2.0" height="2.0" fill="#008000" />
<rect x="465.0" y="194.0" width="2.0" height="2.0" fill="#008000" />
<rect x="455.0" y="195.0" width="2.0" height="2.0" fill="#008000" />
<rect x="446.0" y="197.0" width="2.0" height="2.0" fill="#008000" />
<rect x="449.0" y="198.0" width="2.0" height="2.0" fill="#008000" />
<rect x="447.0" y="200.0" width="2.0" height="2.0" fill="#008000" />
<rect x="502.0" y="197.0" width="2.0" height="2.0" fill="#008000" />
<rect x="436.0" y="201.0" width="2.0" height="2.0" fill="#008000" />
<rect x="442.0" y="210.0" width="2.0" height="2.0" fill="#008000" />
<rect x="479.0" y="215.0" width="2.0" height="2.0" fill="#008000" />
<rect x="427.0" y="230.0" width="2.0" height="2.0" fill="#008000" />
<rect x="464.0" y="242.0" width="2.0" height="2.0" fill="#008000" />
<rect x="496.0" y="242.0" width="2.0" height="2.0" fill="#008000" />
<rect x="431.0" y="253.0" width="2.0" height="2.0" fill="#008000" />
<rect x="435.0" y="257.0" width="2.0" height="2.0" fill="#008000" />
<rect x="412.0" y="259.0" width="2.0" height="2.0" fill="#008000" />
<rect x="500.0" y="263.0" width="2.0" height="2.0" fill="#008000" />
<rect x="441.0" y="266.0" width="2.0" height="2.0" fill="#008000" />
<rect x="499.0" y="268.0" width="2.0" height="2.0" fill="#008000" />
<rect x="411.0" y="277.0" width="2.0" height="2.0" fill="#008000" />
<rect x="485.0" y="288.0" width="2.0" height="2.0" fill="#008000" />
<rect x="472.0" y="291.0" width="2.0" height="2.0" fill="#008000" />
<rect x="426.0" y="293.0" width="2.0" height="2.0" fill="#008000" />
<rect x="440.0" y="297.0" width="2.0" height="2.0" fill="#008000" />
<rect x="458.0" y="303.0" width="2.0" height="2.0" fill="#008000" />
<rect x="453.0" y="304.0" width="2.0" height="2.0" fill="#008000" />
<rect x="497.0" y="311.0" width="2.0" height="2.0" fill="#008000" />
<rect x="473.0" y="313.0" width="2.0" height="2.0" fill="#008000" />
<rect x="448.0" y="329.0" width="2.0" height="2.0" fill="#008000" />
<rect x="418.0" y="333.0" width="2.0" height="2.0" fill="#008000" />
<rect x="424.0" y="333.0" width="2.0" height="2.0" fill="#008000" />
<rect x="421.0" y="338.0" width="2.0" height="2.0" fill="#008000" />
<rect x="444.0" y="338.0" width="2.0" height="2.0" fill="#008000" />
<rect x="465.0" y="351.0" width="2.0" height="2.0" fill="#008000" />
<rect x="414.0" y="354.0" width="2.0" height="2.0" fill="#008000" />
<rect x="437.0" y="354.0" width="2.0" height="2.0" fill="#008000" />
<rect x="460.0" y="356.0" width="2.0" height="2.0" fill="#008000" />
<rect x="291.0" y="386.0" width="2.0" height="2.0" fill="#008000" />
<rect x="428.0" y="376.0" width="2.0" height="2.0" fill="#008000" />
<rect x="432.0" y="381.0" width="2.0" height="2.0" fill="#008000" />
<rect x="415.0" y="389.0" width="2.0" height="2.0" fill="#008000" />
<rect x="498.0" y="387.0" width="2.0" height="2.0" fill="#008000" />
<rect x="429.0" y="409.0" width="2.0" height="2.0" fill="#008000" />
<rect x="416.0" y="451.0" width="2.0" height="2.0" fill="#008000" />
<rect x="422.0" y="465.0" width="2.0" height="2.0" fill="#008000" />
<rect x="423.0" y="473.0" width="2.0" height="2.0" fill="#008000" />
<rect x="419.0" y="475.0" width="2.0" height="2.0" fill="#008000" />
<rect x="417.0" y="483.0" width="2.0" height="2.0" fill="#008000" />
<rect x="532.0" y="499.0" width="2.0" height="2.0" fill="#008000" />
<rect x="533.0" y="506.0" width="2.0" height="2.0" fill="#008000" />
<rect x="792.0" y="477.0" width="2.0" height="2.0" fill="#008000" />
<rect x="801.0" y="503.0" width="2.0" height="2.0" fill="#008000" />
<rect x="817.0" y="499.0" width="2.0" height="2.0" fill="#008000" />
<rect x="819.0" y="501.0" width="2.0" height="2.0" fill="#008000" />
<rect x="819.0" y="504.0" width="2.0" height="2.0" fill="#008000" />
<rect x="821.0" y="499.0" width="2.0" height="2.0" fill="#008000" />
<rect x="820.0" y="510.0" width="2.0" height="2.0" fill="#008000" />
<rect x="829.0" y="509.0" width="2.0" height="2.0" fill="#008000" />
<rect x="830.0" y="513.0" width="2.0" height="2.0" fill="#008000" />
<rect x="827.0" y="516.0" width="2.0" height="2.0" fill="#008000" />
<rect x="832.0" y="519.0" width="2.0" height="2.0" fill="#008000" />
<rect x="831.0" y="525.0" width="2.0" height="2.0" fill="#008000" />
<rect x="842.0" y="510.0" width="2.0" height="2.0" fill="#008000" />
<rect x="845.0" y="513.0" width="2.0" height="2.0" fill="#008000" />
<rect x="850.0" y="507.0" width="2.0" height="2.0" fill="#008000" />
<rect x="853.0" y="510.0" width="2.0" height="2.0" fill="#008000" />
<rect x="848.0" y="517.0" width="2.0" height="2.0" fill="#008000" />
<rect x="849.0" y="519.0" width="2.0" height="2.0" fill="#008000" />
<rect x="854.0" y="521.0" width="2.0" height="2.0" fill="#008000" />
<rect x="855.0" y="524.0" width="2.0" height="2.0" fill="#008000" />
<rect x="857.0" y="524.0" width="2.0" height="2.0" fill="#008000" />
<rect x="859.0" y="521.0" width="2.0" height="2.0" fill="#008000" />
<rect x="841.0" y="527.0" width="2.0" height="2.0" fill="#008000" />
<rect x="844.0" y="526.0" width="2.0" height="2.0" fill="#008000" />
<rect x="888.0" y="516.0" width="2.0" height="2.0" fill="#008000" />
<rect x="887.0" y="520.0" width="2.0" height="2.0" fill="#008000" />
<rect x="886.0" y="523.0" width="2.0" height="2.0" fill="#008000" />
<rect x="885.0" y="527.0" width="2.0" height="2.0" fill="#008000" />
<rect x="883.0" y="529.0" width="2.0" height="2.0" fill="#008000" />
<rect x="882.0" y="528.0" width="2.0" height="2.0" fill="#008000" />
<rect x="893.0" y="522.0" width="2.0" height="2.0" fill="#008000" />
<rect x="894.0" y="527.0" width="2.0" height="2.0" fill="#008000" />
<rect x="878.0" y="531.0" width="2.0" height="2.0" fill="#008000" />
<rect x="877.0" y="534.0" width="2.0" height="2.0" fill="#008000" />
<rect x="872.0" y="537.0" width="2.0" height="2.0" fill="#008000" />
<rect x="874.0" y="539.0" width="2.0" height="2.0" fill="#008000" />
<rect x="876.0" y="542.0" width="2.0" height="2.0" fill="#008000" />
<rect x="873.0" y="544.0" width="2.0" height="2.0" fill="#008000" />
<rect x="875.0" y="546.0" width="2.0" height="2.0" fill="#008000" />
<rect x="866.0" y="545.0" width="2.0" height="2.0" fill="#008000" />
<rect x="856.0" y="536.0" width="2.0" height="2.0" fill="#008000" />
<rect x="858.0" y="550.0" width="2.0" height="2.0" fill="#008000" />
<rect x="865.0" y="558.0" width="2.0" height="2.0" fill="#008000" />
<rect x="868.0" y="560.0" width="2.0" height="2.0" fill="#008000" />
<rect x="905.0" y="538.0" width="2.0" height="2.0" fill="#008000" />
<rect x="906.0" y="554.0" width="2.0" height="2.0" fill="#008000" />
<polyline points="152.0,316.2 158.0,311.2 173.0,306.2 185.5,302.5 199.2,300.8 204.2,296.2 209.2,294.5 213.0,295.0 216.8,296.5 243.0,296.5 248.0,294.5 255.5,290.2 268.0,290.8 278.0,293.0 298.0,295.0 310.5,298.0 323.0,297.5 329.2,300.0 338.0,308.8 345.5,312.5 350.5,312.5 356.8,307.5 365.5,301.8 369.2,302.5 419.0,302.5 429.0,299.5 436.5,298.8 444.0,302.5 450.2,301.8 457.8,297.5 469.0,296.2 479.0,294.5 491.5,295.5 497.8,296.2 505.2,293.8 510.2,288.8 514.0,276.2 517.8,268.8 521.5,266.2 525.2,268.8 531.5,275.0 539.0,280.0 551.5,284.2 564.0,292.0 579.0,297.0 589.0,301.2 595.2,306.2 609.0,308.2 621.5,313.8 634.0,316.2 651.5,322.5 657.8,324.5 660.0,325.0 672.5,328.8 685.0,331.2 696.2,330.8 703.8,327.5 710.0,330.0 722.5,335.0 735.0,339.5 738.8,338.2 745.0,341.2 753.8,346.2 761.2,349.2 770.0,347.0 785.0,345.0 795.0,340.0 805.0,342.0 817.5,342.5 825.0,339.2 831.2,338.8 835.0,340.5 845.0,338.0 850.0,337.5 872.5,337.5 880.0,340.0 890.0,342.5 900.0,345.8 910.0,348.8" fill="none" stroke="#00ffff" stroke-width="1" />
<polyline points="152.0,291.2 154.2,289.2 166.8,289.2 168.0,286.2 171.8,286.2 173.0,283.8 184.2,283.8 186.8,280.0 213.0,280.0 214.0,281.0 244.2,280.5 248.0,277.5 265.5,277.5 268.0,279.2 283.0,279.2 284.2,282.5 300.5,282.5 301.8,285.5 318.0,285.5 320.5,288.8 328.0,291.2 333.0,296.2 336.8,303.0 340.5,305.5 348.0,305.5 351.8,303.8 355.5,297.5 359.2,293.8 425.2,293.8 430.2,289.2 434.0,291.2 439.0,293.0 447.8,293.8 451.5,289.2 467.8,289.2 471.5,286.2 487.8,286.2 490.2,288.2 495.2,288.2 499.0,286.2 504.0,285.0 507.8,280.0 510.2,272.5 512.0,260.0 515.2,256.2 519.0,256.2 522.8,260.0 526.5,263.8 530.2,265.8 554.0,265.8 555.2,268.0 562.0,268.0 563.0,267.0 564.0,268.0 579.0,268.0 581.5,271.2 589.0,271.2 590.2,274.5 607.8,274.5 609.5,277.0 634.0,277.0 636.5,279.5 640.2,280.8 647.8,285.0 654.0,285.5 656.5,288.8 662.5,289.2 663.8,291.2 675.0,291.2 676.2,293.8 703.8,293.8 706.2,297.0 710.0,298.8 716.2,300.0 718.8,302.5 725.0,302.5 727.5,305.8 732.5,307.5 738.8,308.0 742.5,312.5 746.2,317.0 751.2,317.0 752.5,319.5 758.8,320.0 760.0,321.8 780.0,321.8 782.5,319.5 800.0,319.5 801.2,321.8 831.2,321.8 832.5,325.0 872.5,325.0 873.8,327.5 886.2,327.5 888.8,330.8 891.2,331.2 892.5,333.8 900.0,333.8 901.2,335.8 911.0,335.8" fill="none" stroke="#ff0000" stroke-width="2" stroke-linejoin="round"/>
<polyline points="152.0,281.2 155.0,283.0 157.0,280.5 160.0,282.0 163.0,280.0 165.5,279.4 168.0,280.6 170.5,280.0 185.5,278.2 191.8,275.0 211.8,275.0 213.5,278.2 216.3,279.0 219.2,277.8 222.0,278.5 224.0,276.5 226.0,278.5 228.8,278.6 231.7,279.4 243.0,279.2 248.0,275.2 257.0,275.0 259.2,273.5 261.0,275.0 265.5,275.8 268.5,279.2 271.0,279.2 273.5,280.4 276.0,279.0 278.0,280.0 282.0,279.0 284.7,279.8 287.4,278.1 290.1,280.2 292.8,278.5 295.5,280.0 298.0,282.5 305.5,282.5 310.5,279.2 319.2,280.0 326.8,288.8 333.0,300.0 336.8,310.0 341.8,310.5 345.5,306.2 353.0,296.2 360.5,287.5 363.0,286.2 364.2,288.8 378.0,288.8 381.8,283.8 390.5,278.0 393.0,278.0 395.5,278.0 398.0,281.2 401.0,280.5 404.0,283.0 406.5,283.0 409.0,283.6 411.5,282.4 414.0,283.0 415.0,281.5 417.8,283.0 419.0,281.2 421.5,280.2 424.0,281.7 426.5,280.0 429.0,282.5 431.5,285.0 434.0,287.1 436.5,288.0 439.0,291.1 441.5,293.0 445.2,287.5 448.4,283.1 451.5,278.8 454.0,282.5 457.8,281.2 460.2,278.8 462.8,276.2 465.2,276.7 467.8,273.9 470.2,273.8 472.8,271.4 475.2,271.7 477.8,268.8 481.5,273.8 484.0,276.0 486.5,280.2 489.0,282.5 491.5,281.2 494.0,278.3 496.5,276.7 499.0,272.5 501.5,268.7 504.0,268.8 506.5,265.0 510.2,252.5 512.8,248.1 515.2,246.2 518.4,242.8 521.5,240.8 524.0,241.0 526.5,238.6 529.0,239.5 531.0,241.5 532.5,238.5 534.0,240.0 536.0,238.0 540.2,237.0 543.4,235.8 546.5,234.5 549.0,234.1 551.5,236.2 555.2,240.0 557.5,237.0 560.2,238.0 562.0,241.0 564.0,237.5 566.5,240.0 569.2,239.2 572.0,238.5 574.0,240.5 576.5,240.6 579.0,241.3 581.5,240.8 584.0,245.5 587.1,246.8 590.2,245.5 591.5,244.0 594.0,248.0 597.8,247.0 600.9,247.0 604.0,247.0 606.5,251.2 609.0,253.2 611.5,252.5 614.0,251.0 616.5,254.5 619.0,252.5 621.0,254.5 624.0,253.8 626.5,255.6 629.0,257.5 631.5,259.0 634.0,261.8 636.5,262.0 639.0,260.5 641.0,263.0 644.0,263.8 646.5,266.5 649.0,267.9 651.5,270.0 654.0,271.6 656.5,274.5 660.0,274.5 662.5,273.5 665.0,272.5 667.5,271.2 670.0,272.5 672.5,273.4 675.0,277.0 678.8,275.0 681.4,274.6 684.0,275.5 686.0,277.0 688.0,275.0 690.0,276.5 692.5,276.0 695.0,274.9 697.5,275.0 700.0,277.1 702.5,279.2 707.0,278.0 709.0,280.0 712.0,278.0 715.0,278.2 718.8,282.0 722.0,281.0 725.0,282.0 728.8,284.5 731.0,283.5 734.2,285.8 737.5,285.5 741.2,295.0 743.0,293.0 746.2,296.2 750.5,302.5 754.5,294.5 758.8,300.0 762.5,297.5 767.5,302.5 773.8,295.0 780.0,302.5 785.0,300.0 790.0,297.5 793.0,296.5 796.2,297.5 801.2,300.0 807.0,305.0 812.5,300.0 816.2,305.0 820.0,303.0 823.8,305.8 826.2,305.8 828.8,307.1 831.2,305.8 833.8,305.8 836.2,306.4 838.8,305.8 841.2,306.4 843.8,305.8 846.2,306.4 848.8,305.8 850.0,307.5 852.5,308.1 855.0,307.5 857.5,306.2 860.0,308.1 862.5,310.0 865.0,310.6 867.5,309.4 870.0,310.0 872.5,311.3 875.0,308.7 877.5,310.0 880.0,310.6 882.5,310.0 886.2,313.0 888.8,317.6 891.2,319.5 895.0,317.5 897.5,321.2 900.0,318.2 902.5,322.3 905.0,323.8 907.5,322.0 911.0,322.0" fill="none" stroke="#800000" stroke-width="2" stroke-linejoin="round"/>
<polyline points="152.0,96.5 158.0,91.2 164.0,90.0 199.0,90.0 206.0,84.8 214.0,84.0 248.0,84.0 255.5,79.0 318.0,79.0 323.0,74.5 330.5,73.0 527.0,73.0 530.0,77.0 537.0,78.0 541.0,82.0 549.0,84.0 556.5,90.0 564.0,94.0 574.0,95.0 579.0,99.5 590.0,101.0 595.0,105.5 614.0,106.8 621.5,112.0 696.8,112.0 701.0,107.8 705.0,107.0 736.0,107.0 741.0,103.0 749.0,101.0 762.5,101.0 767.5,97.0 772.5,96.0 789.0,96.0 794.0,91.2 800.0,90.0 820.0,90.0 825.0,85.8 830.0,84.8 839.0,84.0 844.0,80.5 849.0,79.0 911.0,79.0" fill="none" stroke="#808080" stroke-width="2" />
<polyline points="152.0,154.0 418.0,154.0 418.5,149.0 420.0,145.5 423.0,143.0 427.0,141.5 431.5,141.0 546.5,141.0 547.0,146.0 548.5,149.5 551.0,152.0 554.0,153.5 557.0,154.0 672.5,154.0 673.0,160.0 675.0,160.5 680.0,165.0 683.0,167.0 911.0,167.0" fill="none" stroke="#000" stroke-width="2" />
<polyline points="706.5,621.0 706.5,610.8 711.5,610.8 711.5,606.3 713.0,606.3 713.0,599.6 721.3,599.6 721.3,588.4 727.4,588.4 727.4,577.2 738.3,577.2 738.3,566.0 753.5,566.0 753.5,554.8 759.3,554.8 759.3,532.4 765.2,532.4 765.2,521.2 775.0,521.2 775.0,510.0 783.0,510.0 783.0,498.8 800.0,498.8 800.0,487.6 813.3,487.6 813.3,476.4 849.3,476.4 849.3,465.2 889.5,465.2 889.5,454.0 911.0,454.0" fill="none" stroke="#0000ff" stroke-width="2" stroke-linejoin="miter"/>
</g>
<rect x="151" y="62" width="760" height="560" fill="none" stroke="#808080" stroke-width="2"/>
<rect x="151.0" y="623.0" width="1.0" height="4.0" fill="#808080" />
<rect x="911.0" y="623.0" width="1.0" height="4.0" fill="#808080" />
<rect x="912.0" y="622.0" width="4.0" height="1.0" fill="#808080" />
<rect x="152.0" y="621.0" width="758.0" height="1.0" fill="#0000ff" />
<rect x="214.0" y="623.0" width="1.0" height="4.0" fill="#808080" />
<rect x="278.0" y="623.0" width="1.0" height="4.0" fill="#808080" />
<rect x="341.0" y="623.0" width="1.0" height="4.0" fill="#808080" />
<rect x="404.0" y="623.0" width="1.0" height="4.0" fill="#808080" />
<rect x="468.0" y="623.0" width="1.0" height="4.0" fill="#808080" />
<rect x="531.0" y="623.0" width="1.0" height="4.0" fill="#808080" />
<rect x="594.0" y="623.0" width="1.0" height="4.0" fill="#808080" />
<rect x="658.0" y="623.0" width="1.0" height="4.0" fill="#808080" />
<rect x="721.0" y="623.0" width="1.0" height="4.0" fill="#808080" />
<rect x="784.0" y="623.0" width="1.0" height="4.0" fill="#808080" />
<rect x="848.0" y="623.0" width="1.0" height="4.0" fill="#808080" />
<rect x="277.0" y="619.0" width="2.0" height="12.0" fill="#808080" />
<rect x="566.0" y="619.0" width="2.0" height="12.0" fill="#808080" />
<rect x="408.0" y="618.0" width="2.0" height="13.0" fill="#ffff00" />
<rect x="657.0" y="618.0" width="2.0" height="13.0" fill="#ffff00" />
<path d="M40 651 h9 v-2 h-1 v-2 h-1 v-1 h-1 v-1 h-3 v1 h-1 v1 h-1 v2 h-1 z" fill="#ffff00"/>
<rect x="273.0" y="642.0" width="11.0" height="11.0" fill="#000080" />
<circle cx="276.5" cy="645" r="2.6" fill="#fff" shape-rendering="auto"/>
<path d="M280.5 645 l-2.5 3.5 h1.5 v4 h2 v-4 h1.5 z" fill="#ffff00"/>
<g shape-rendering="auto"><circle cx="409.5" cy="647.5" r="3.3" fill="#ffff00"/><g stroke="#ffff40" stroke-width="1" opacity="0.8"><line x1="409.5" y1="642" x2="409.5" y2="653"/><line x1="404" y1="647.5" x2="415" y2="647.5"/><line x1="405.6" y1="643.6" x2="413.4" y2="651.4"/><line x1="405.6" y1="651.4" x2="413.4" y2="643.6"/></g></g>
<rect x="562.0" y="642.0" width="11.0" height="11.0" fill="#000080" />
<circle cx="570" cy="651" r="2.6" fill="#fff" shape-rendering="auto"/>
<path d="M565.5 650 l-2.5 -3.5 h1.5 v-3.5 h2 v3.5 h1.5 z" fill="#ffff00"/>
<rect x="655.5" y="645.5" width="5" height="5" fill="none" stroke="#ffff00" stroke-width="1"/>
<rect x="0.0" y="655.0" width="1024.0" height="69.0" fill="#0068dc" />
<rect x="0.0" y="654.0" width="1024.0" height="1.0" fill="#f4ead8" />
<rect x="0.0" y="654.0" width="1.0" height="70.0" fill="#f4ead8" />
<rect x="87.0" y="655.0" width="1.0" height="69.0" fill="#f0f0f0" />
<rect x="88.0" y="655.0" width="1.0" height="69.0" fill="#c8a878" />
<rect x="205.0" y="655.0" width="1.0" height="69.0" fill="#f0f0f0" />
<rect x="206.0" y="655.0" width="1.0" height="69.0" fill="#c8a878" />
<rect x="322.0" y="655.0" width="1.0" height="69.0" fill="#f0f0f0" />
<rect x="323.0" y="655.0" width="1.0" height="69.0" fill="#c8a878" />
<rect x="440.0" y="655.0" width="1.0" height="69.0" fill="#f0f0f0" />
<rect x="441.0" y="655.0" width="1.0" height="69.0" fill="#c8a878" />
<rect x="558.0" y="655.0" width="1.0" height="69.0" fill="#f0f0f0" />
<rect x="559.0" y="655.0" width="1.0" height="69.0" fill="#c8a878" />
<rect x="676.0" y="655.0" width="1.0" height="69.0" fill="#f0f0f0" />
<rect x="677.0" y="655.0" width="1.0" height="69.0" fill="#c8a878" />
<rect x="794.0" y="655.0" width="1.0" height="69.0" fill="#f0f0f0" />
<rect x="795.0" y="655.0" width="1.0" height="69.0" fill="#c8a878" />
<rect x="912.0" y="655.0" width="1.0" height="69.0" fill="#f0f0f0" />
<rect x="913.0" y="655.0" width="1.0" height="69.0" fill="#c8a878" />
<rect x="1023.0" y="655.0" width="1.0" height="69.0" fill="#806040" />
<g filter="url(#cr)">
<text transform="translate(514.2,21.0) scale(1.000,1)" fill="#000" text-anchor="middle" font-size="16" font-weight="normal" >Samstag, 12.12.2009</text>
<text transform="translate(933.0,16.0) scale(0.900,1)" fill="#ff0000" text-anchor="start" font-size="12" font-weight="normal" >Auf einen Blick ...</text>
<text transform="translate(175.5,42.0) scale(0.900,1)" fill="#ff0000" text-anchor="start" font-size="12" font-weight="normal" >Temp. 2 m</text>
<text transform="translate(175.5,56.0) scale(0.900,1)" fill="#d8d800" text-anchor="start" font-size="12" font-weight="normal" >Regenzeit</text>
<text transform="translate(270.5,42.0) scale(0.900,1)" fill="#ff0000" text-anchor="start" font-size="12" font-weight="normal" >Temp. Boden</text>
<text transform="translate(270.5,56.0) scale(0.900,1)" fill="#ff0000" text-anchor="start" font-size="12" font-weight="normal" >Taupunkt*</text>
<text transform="translate(365.5,42.0) scale(0.900,1)" fill="#808080" text-anchor="start" font-size="12" font-weight="normal" >Luftfeuchte*</text>
<text transform="translate(365.5,56.0) scale(0.900,1)" fill="#ff0000" text-anchor="start" font-size="12" font-weight="normal" >Windchill</text>
<text transform="translate(460.5,42.0) scale(0.900,1)" fill="#000" text-anchor="start" font-size="12" font-weight="normal" >Luftdruck*</text>
<text transform="translate(460.5,56.0) scale(0.900,1)" fill="#008000" text-anchor="start" font-size="12" font-weight="normal" >Windböen</text>
<text transform="translate(555.5,42.0) scale(0.900,1)" fill="#0000ff" text-anchor="start" font-size="12" font-weight="normal" >Regen</text>
<text transform="translate(650.5,42.0) scale(0.900,1)" fill="#008000" text-anchor="start" font-size="12" font-weight="normal" >Wind</text>
<text transform="translate(745.5,42.0) scale(0.900,1)" fill="#008000" text-anchor="start" font-size="12" font-weight="normal" >Richtung*</text>
<text transform="translate(840.5,42.0) scale(0.900,1)" fill="#d8d800" text-anchor="start" font-size="12" font-weight="normal" >Sonne-Zeit</text>
<text transform="translate(25.0,51.0) scale(0.900,1)" fill="#ff0000" text-anchor="middle" font-size="12" font-weight="normal" >°C</text>
<text transform="translate(58.0,51.0) scale(0.900,1)" fill="#000" text-anchor="middle" font-size="12" font-weight="normal" >hPa</text>
<text transform="translate(92.0,51.0) scale(0.900,1)" fill="#008000" text-anchor="middle" font-size="12" font-weight="normal" >km/h</text>
<text transform="translate(133.0,51.0) scale(0.900,1)" fill="#d8d800" text-anchor="middle" font-size="12" font-weight="normal" >min</text>
<text transform="translate(915.5,51.0) scale(0.720,1)" fill="#808080" text-anchor="middle" font-size="12" font-weight="normal" stroke="#808080" stroke-width="0.35">%</text>
<text transform="translate(957.5,51.0) scale(0.900,1)" fill="#0000ff" text-anchor="middle" font-size="12" font-weight="normal" >l/m²</text>
<text transform="translate(34.0,67.0) scale(0.900,1)" fill="#ff0000" text-anchor="end" font-size="12" font-weight="normal" >10.0</text>
<text transform="translate(34.0,95.0) scale(0.900,1)" fill="#ff0000" text-anchor="end" font-size="12" font-weight="normal" >9.0</text>
<text transform="translate(34.0,123.0) scale(0.900,1)" fill="#ff0000" text-anchor="end" font-size="12" font-weight="normal" >8.0</text>
<text transform="translate(34.0,151.0) scale(0.900,1)" fill="#ff0000" text-anchor="end" font-size="12" font-weight="normal" >7.0</text>
<text transform="translate(34.0,179.0) scale(0.900,1)" fill="#ff0000" text-anchor="end" font-size="12" font-weight="normal" >6.0</text>
<text transform="translate(34.0,207.0) scale(0.900,1)" fill="#ff0000" text-anchor="end" font-size="12" font-weight="normal" >5.0</text>
<text transform="translate(34.0,235.0) scale(0.900,1)" fill="#ff0000" text-anchor="end" font-size="12" font-weight="normal" >4.0</text>
<text transform="translate(34.0,263.0) scale(0.900,1)" fill="#ff0000" text-anchor="end" font-size="12" font-weight="normal" >3.0</text>
<text transform="translate(34.0,291.0) scale(0.900,1)" fill="#ff0000" text-anchor="end" font-size="12" font-weight="normal" >2.0</text>
<text transform="translate(34.0,319.0) scale(0.900,1)" fill="#ff0000" text-anchor="end" font-size="12" font-weight="normal" >1.0</text>
<text transform="translate(34.0,347.0) scale(0.900,1)" fill="#ff0000" text-anchor="end" font-size="12" font-weight="normal" >0.0</text>
<text transform="translate(34.0,375.0) scale(0.900,1)" fill="#ff0000" text-anchor="end" font-size="12" font-weight="normal" >-1.0</text>
<text transform="translate(34.0,403.0) scale(0.900,1)" fill="#ff0000" text-anchor="end" font-size="12" font-weight="normal" >-2.0</text>
<text transform="translate(34.0,431.0) scale(0.900,1)" fill="#ff0000" text-anchor="end" font-size="12" font-weight="normal" >-3.0</text>
<text transform="translate(34.0,459.0) scale(0.900,1)" fill="#ff0000" text-anchor="end" font-size="12" font-weight="normal" >-4.0</text>
<text transform="translate(34.0,487.0) scale(0.900,1)" fill="#ff0000" text-anchor="end" font-size="12" font-weight="normal" >-5.0</text>
<text transform="translate(34.0,515.0) scale(0.900,1)" fill="#ff0000" text-anchor="end" font-size="12" font-weight="normal" >-6.0</text>
<text transform="translate(34.0,543.0) scale(0.900,1)" fill="#ff0000" text-anchor="end" font-size="12" font-weight="normal" >-7.0</text>
<text transform="translate(34.0,571.0) scale(0.900,1)" fill="#ff0000" text-anchor="end" font-size="12" font-weight="normal" >-8.0</text>
<text transform="translate(34.0,599.0) scale(0.900,1)" fill="#ff0000" text-anchor="end" font-size="12" font-weight="normal" >-9.0</text>
<text transform="translate(34.0,627.0) scale(0.900,1)" fill="#ff0000" text-anchor="end" font-size="12" font-weight="normal" >-10.0</text>
<text transform="translate(71.0,67.0) scale(0.900,1)" fill="#000" text-anchor="end" font-size="12" font-weight="normal" >1032</text>
<text transform="translate(71.0,94.0) scale(0.900,1)" fill="#000" text-anchor="end" font-size="12" font-weight="normal" >1030</text>
<text transform="translate(71.0,120.0) scale(0.900,1)" fill="#000" text-anchor="end" font-size="12" font-weight="normal" >1028</text>
<text transform="translate(71.0,147.0) scale(0.900,1)" fill="#000" text-anchor="end" font-size="12" font-weight="normal" >1026</text>
<text transform="translate(71.0,174.0) scale(0.900,1)" fill="#000" text-anchor="end" font-size="12" font-weight="normal" >1024</text>
<text transform="translate(71.0,200.0) scale(0.900,1)" fill="#000" text-anchor="end" font-size="12" font-weight="normal" >1022</text>
<text transform="translate(71.0,227.0) scale(0.900,1)" fill="#000" text-anchor="end" font-size="12" font-weight="normal" >1020</text>
<text transform="translate(71.0,254.0) scale(0.900,1)" fill="#000" text-anchor="end" font-size="12" font-weight="normal" >1018</text>
<text transform="translate(71.0,280.0) scale(0.900,1)" fill="#000" text-anchor="end" font-size="12" font-weight="normal" >1016</text>
<text transform="translate(71.0,307.0) scale(0.900,1)" fill="#000" text-anchor="end" font-size="12" font-weight="normal" >1014</text>
<text transform="translate(71.0,334.0) scale(0.900,1)" fill="#000" text-anchor="end" font-size="12" font-weight="normal" >1012</text>
<text transform="translate(71.0,360.0) scale(0.900,1)" fill="#000" text-anchor="end" font-size="12" font-weight="normal" >1010</text>
<text transform="translate(71.0,387.0) scale(0.900,1)" fill="#000" text-anchor="end" font-size="12" font-weight="normal" >1008</text>
<text transform="translate(71.0,414.0) scale(0.900,1)" fill="#000" text-anchor="end" font-size="12" font-weight="normal" >1006</text>
<text transform="translate(71.0,440.0) scale(0.900,1)" fill="#000" text-anchor="end" font-size="12" font-weight="normal" >1004</text>
<text transform="translate(71.0,467.0) scale(0.900,1)" fill="#000" text-anchor="end" font-size="12" font-weight="normal" >1002</text>
<text transform="translate(71.0,494.0) scale(0.900,1)" fill="#000" text-anchor="end" font-size="12" font-weight="normal" >1000</text>
<text transform="translate(71.0,520.0) scale(0.900,1)" fill="#000" text-anchor="end" font-size="12" font-weight="normal" >998</text>
<text transform="translate(71.0,547.0) scale(0.900,1)" fill="#000" text-anchor="end" font-size="12" font-weight="normal" >996</text>
<text transform="translate(71.0,574.0) scale(0.900,1)" fill="#000" text-anchor="end" font-size="12" font-weight="normal" >994</text>
<text transform="translate(71.0,600.0) scale(0.900,1)" fill="#000" text-anchor="end" font-size="12" font-weight="normal" >992</text>
<text transform="translate(71.0,627.0) scale(0.900,1)" fill="#000" text-anchor="end" font-size="12" font-weight="normal" >990</text>
<text transform="translate(108.0,67.0) scale(0.900,1)" fill="#008000" text-anchor="end" font-size="12" font-weight="normal" >60.0</text>
<text transform="translate(108.0,86.0) scale(0.900,1)" fill="#008000" text-anchor="end" font-size="12" font-weight="normal" >58.0</text>
<text transform="translate(108.0,104.0) scale(0.900,1)" fill="#008000" text-anchor="end" font-size="12" font-weight="normal" >56.0</text>
<text transform="translate(108.0,123.0) scale(0.900,1)" fill="#008000" text-anchor="end" font-size="12" font-weight="normal" >54.0</text>
<text transform="translate(108.0,142.0) scale(0.900,1)" fill="#008000" text-anchor="end" font-size="12" font-weight="normal" >52.0</text>
<text transform="translate(108.0,160.0) scale(0.900,1)" fill="#008000" text-anchor="end" font-size="12" font-weight="normal" >50.0</text>
<text transform="translate(108.0,179.0) scale(0.900,1)" fill="#008000" text-anchor="end" font-size="12" font-weight="normal" >48.0</text>
<text transform="translate(108.0,198.0) scale(0.900,1)" fill="#008000" text-anchor="end" font-size="12" font-weight="normal" >46.0</text>
<text transform="translate(108.0,216.0) scale(0.900,1)" fill="#008000" text-anchor="end" font-size="12" font-weight="normal" >44.0</text>
<text transform="translate(108.0,235.0) scale(0.900,1)" fill="#008000" text-anchor="end" font-size="12" font-weight="normal" >42.0</text>
<text transform="translate(108.0,254.0) scale(0.900,1)" fill="#008000" text-anchor="end" font-size="12" font-weight="normal" >40.0</text>
<text transform="translate(108.0,272.0) scale(0.900,1)" fill="#008000" text-anchor="end" font-size="12" font-weight="normal" >38.0</text>
<text transform="translate(108.0,291.0) scale(0.900,1)" fill="#008000" text-anchor="end" font-size="12" font-weight="normal" >36.0</text>
<text transform="translate(108.0,310.0) scale(0.900,1)" fill="#008000" text-anchor="end" font-size="12" font-weight="normal" >34.0</text>
<text transform="translate(108.0,328.0) scale(0.900,1)" fill="#008000" text-anchor="end" font-size="12" font-weight="normal" >32.0</text>
<text transform="translate(108.0,347.0) scale(0.900,1)" fill="#008000" text-anchor="end" font-size="12" font-weight="normal" >30.0</text>
<text transform="translate(108.0,366.0) scale(0.900,1)" fill="#008000" text-anchor="end" font-size="12" font-weight="normal" >28.0</text>
<text transform="translate(108.0,384.0) scale(0.900,1)" fill="#008000" text-anchor="end" font-size="12" font-weight="normal" >26.0</text>
<text transform="translate(108.0,403.0) scale(0.900,1)" fill="#008000" text-anchor="end" font-size="12" font-weight="normal" >24.0</text>
<text transform="translate(108.0,422.0) scale(0.900,1)" fill="#008000" text-anchor="end" font-size="12" font-weight="normal" >22.0</text>
<text transform="translate(108.0,440.0) scale(0.900,1)" fill="#008000" text-anchor="end" font-size="12" font-weight="normal" >20.0</text>
<text transform="translate(108.0,459.0) scale(0.900,1)" fill="#008000" text-anchor="end" font-size="12" font-weight="normal" >18.0</text>
<text transform="translate(108.0,478.0) scale(0.900,1)" fill="#008000" text-anchor="end" font-size="12" font-weight="normal" >16.0</text>
<text transform="translate(108.0,496.0) scale(0.900,1)" fill="#008000" text-anchor="end" font-size="12" font-weight="normal" >14.0</text>
<text transform="translate(108.0,515.0) scale(0.900,1)" fill="#008000" text-anchor="end" font-size="12" font-weight="normal" >12.0</text>
<text transform="translate(108.0,534.0) scale(0.900,1)" fill="#008000" text-anchor="end" font-size="12" font-weight="normal" >10.0</text>
<text transform="translate(108.0,552.0) scale(0.900,1)" fill="#008000" text-anchor="end" font-size="12" font-weight="normal" >8.0</text>
<text transform="translate(108.0,571.0) scale(0.900,1)" fill="#008000" text-anchor="end" font-size="12" font-weight="normal" >6.0</text>
<text transform="translate(108.0,590.0) scale(0.900,1)" fill="#008000" text-anchor="end" font-size="12" font-weight="normal" >4.0</text>
<text transform="translate(108.0,608.0) scale(0.900,1)" fill="#008000" text-anchor="end" font-size="12" font-weight="normal" >2.0</text>
<text transform="translate(108.0,627.0) scale(0.900,1)" fill="#008000" text-anchor="end" font-size="12" font-weight="normal" >0.0</text>
<text transform="translate(145.0,67.0) scale(0.900,1)" fill="#d8d800" text-anchor="end" font-size="12" font-weight="normal" >30</text>
<text transform="translate(145.0,160.0) scale(0.900,1)" fill="#d8d800" text-anchor="end" font-size="12" font-weight="normal" >25</text>
<text transform="translate(145.0,254.0) scale(0.900,1)" fill="#d8d800" text-anchor="end" font-size="12" font-weight="normal" >20</text>
<text transform="translate(145.0,347.0) scale(0.900,1)" fill="#d8d800" text-anchor="end" font-size="12" font-weight="normal" >15</text>
<text transform="translate(145.0,440.0) scale(0.900,1)" fill="#d8d800" text-anchor="end" font-size="12" font-weight="normal" >10</text>
<text transform="translate(145.0,534.0) scale(0.900,1)" fill="#d8d800" text-anchor="end" font-size="12" font-weight="normal" >5</text>
<text transform="translate(145.0,627.0) scale(0.900,1)" fill="#d8d800" text-anchor="end" font-size="12" font-weight="normal" >0</text>
<text transform="translate(918.0,67.0) scale(0.900,1)" fill="#808080" text-anchor="start" font-size="12" font-weight="normal" >100</text>
<text transform="translate(918.0,95.0) scale(0.900,1)" fill="#808080" text-anchor="start" font-size="12" font-weight="normal" >95</text>
<text transform="translate(918.0,123.0) scale(0.900,1)" fill="#808080" text-anchor="start" font-size="12" font-weight="normal" >90</text>
<text transform="translate(918.0,151.0) scale(0.900,1)" fill="#808080" text-anchor="start" font-size="12" font-weight="normal" >85</text>
<text transform="translate(918.0,179.0) scale(0.900,1)" fill="#808080" text-anchor="start" font-size="12" font-weight="normal" >80</text>
<text transform="translate(918.0,207.0) scale(0.900,1)" fill="#808080" text-anchor="start" font-size="12" font-weight="normal" >75</text>
<text transform="translate(918.0,235.0) scale(0.900,1)" fill="#808080" text-anchor="start" font-size="12" font-weight="normal" >70</text>
<text transform="translate(918.0,263.0) scale(0.900,1)" fill="#808080" text-anchor="start" font-size="12" font-weight="normal" >65</text>
<text transform="translate(918.0,291.0) scale(0.900,1)" fill="#808080" text-anchor="start" font-size="12" font-weight="normal" >60</text>
<text transform="translate(918.0,319.0) scale(0.900,1)" fill="#808080" text-anchor="start" font-size="12" font-weight="normal" >55</text>
<text transform="translate(918.0,347.0) scale(0.900,1)" fill="#808080" text-anchor="start" font-size="12" font-weight="normal" >50</text>
<text transform="translate(918.0,375.0) scale(0.900,1)" fill="#808080" text-anchor="start" font-size="12" font-weight="normal" >45</text>
<text transform="translate(918.0,403.0) scale(0.900,1)" fill="#808080" text-anchor="start" font-size="12" font-weight="normal" >40</text>
<text transform="translate(918.0,431.0) scale(0.900,1)" fill="#808080" text-anchor="start" font-size="12" font-weight="normal" >35</text>
<text transform="translate(918.0,459.0) scale(0.900,1)" fill="#808080" text-anchor="start" font-size="12" font-weight="normal" >30</text>
<text transform="translate(918.0,487.0) scale(0.900,1)" fill="#808080" text-anchor="start" font-size="12" font-weight="normal" >25</text>
<text transform="translate(918.0,515.0) scale(0.900,1)" fill="#808080" text-anchor="start" font-size="12" font-weight="normal" >20</text>
<text transform="translate(918.0,543.0) scale(0.900,1)" fill="#808080" text-anchor="start" font-size="12" font-weight="normal" >15</text>
<text transform="translate(918.0,571.0) scale(0.900,1)" fill="#808080" text-anchor="start" font-size="12" font-weight="normal" >10</text>
<text transform="translate(918.0,599.0) scale(0.900,1)" fill="#808080" text-anchor="start" font-size="12" font-weight="normal" >5</text>
<text transform="translate(918.0,627.0) scale(0.900,1)" fill="#808080" text-anchor="start" font-size="12" font-weight="normal" >0</text>
<text transform="translate(955.0,89.0) scale(0.900,1)" fill="#0000ff" text-anchor="start" font-size="12" font-weight="normal" >4.8</text>
<text transform="translate(955.0,112.0) scale(0.900,1)" fill="#0000ff" text-anchor="start" font-size="12" font-weight="normal" >4.6</text>
<text transform="translate(955.0,134.0) scale(0.900,1)" fill="#0000ff" text-anchor="start" font-size="12" font-weight="normal" >4.4</text>
<text transform="translate(955.0,157.0) scale(0.900,1)" fill="#0000ff" text-anchor="start" font-size="12" font-weight="normal" >4.2</text>
<text transform="translate(955.0,179.0) scale(0.900,1)" fill="#0000ff" text-anchor="start" font-size="12" font-weight="normal" >4.0</text>
<text transform="translate(955.0,201.0) scale(0.900,1)" fill="#0000ff" text-anchor="start" font-size="12" font-weight="normal" >3.8</text>
<text transform="translate(955.0,224.0) scale(0.900,1)" fill="#0000ff" text-anchor="start" font-size="12" font-weight="normal" >3.6</text>
<text transform="translate(955.0,246.0) scale(0.900,1)" fill="#0000ff" text-anchor="start" font-size="12" font-weight="normal" >3.4</text>
<text transform="translate(955.0,269.0) scale(0.900,1)" fill="#0000ff" text-anchor="start" font-size="12" font-weight="normal" >3.2</text>
<text transform="translate(955.0,291.0) scale(0.900,1)" fill="#0000ff" text-anchor="start" font-size="12" font-weight="normal" >3.0</text>
<text transform="translate(955.0,313.0) scale(0.900,1)" fill="#0000ff" text-anchor="start" font-size="12" font-weight="normal" >2.8</text>
<text transform="translate(955.0,336.0) scale(0.900,1)" fill="#0000ff" text-anchor="start" font-size="12" font-weight="normal" >2.6</text>
<text transform="translate(955.0,358.0) scale(0.900,1)" fill="#0000ff" text-anchor="start" font-size="12" font-weight="normal" >2.4</text>
<text transform="translate(955.0,381.0) scale(0.900,1)" fill="#0000ff" text-anchor="start" font-size="12" font-weight="normal" >2.2</text>
<text transform="translate(955.0,403.0) scale(0.900,1)" fill="#0000ff" text-anchor="start" font-size="12" font-weight="normal" >2.0</text>
<text transform="translate(955.0,425.0) scale(0.900,1)" fill="#0000ff" text-anchor="start" font-size="12" font-weight="normal" >1.8</text>
<text transform="translate(955.0,448.0) scale(0.900,1)" fill="#0000ff" text-anchor="start" font-size="12" font-weight="normal" >1.6</text>
<text transform="translate(955.0,470.0) scale(0.900,1)" fill="#0000ff" text-anchor="start" font-size="12" font-weight="normal" >1.4</text>
<text transform="translate(955.0,493.0) scale(0.900,1)" fill="#0000ff" text-anchor="start" font-size="12" font-weight="normal" >1.2</text>
<text transform="translate(955.0,515.0) scale(0.900,1)" fill="#0000ff" text-anchor="start" font-size="12" font-weight="normal" >1.0</text>
<text transform="translate(955.0,537.0) scale(0.900,1)" fill="#0000ff" text-anchor="start" font-size="12" font-weight="normal" >0.8</text>
<text transform="translate(955.0,560.0) scale(0.900,1)" fill="#0000ff" text-anchor="start" font-size="12" font-weight="normal" >0.6</text>
<text transform="translate(955.0,582.0) scale(0.900,1)" fill="#0000ff" text-anchor="start" font-size="12" font-weight="normal" >0.4</text>
<text transform="translate(955.0,605.0) scale(0.900,1)" fill="#0000ff" text-anchor="start" font-size="12" font-weight="normal" >0.2</text>
<text transform="translate(955.0,627.0) scale(0.900,1)" fill="#0000ff" text-anchor="start" font-size="12" font-weight="normal" >0.0</text>
<text transform="translate(992.0,67.0) scale(0.900,1)" fill="#008000" text-anchor="start" font-size="12" font-weight="normal" >360 N</text>
<text transform="translate(992.0,114.0) scale(0.900,1)" fill="#008000" text-anchor="start" font-size="12" font-weight="normal" >330</text>
<text transform="translate(992.0,160.0) scale(0.900,1)" fill="#008000" text-anchor="start" font-size="12" font-weight="normal" >300</text>
<text transform="translate(992.0,207.0) scale(0.900,1)" fill="#008000" text-anchor="start" font-size="12" font-weight="normal" >270 W</text>
<text transform="translate(992.0,254.0) scale(0.900,1)" fill="#008000" text-anchor="start" font-size="12" font-weight="normal" >240</text>
<text transform="translate(992.0,300.0) scale(0.900,1)" fill="#008000" text-anchor="start" font-size="12" font-weight="normal" >210</text>
<text transform="translate(992.0,347.0) scale(0.900,1)" fill="#008000" text-anchor="start" font-size="12" font-weight="normal" >180 S</text>
<text transform="translate(992.0,394.0) scale(0.900,1)" fill="#008000" text-anchor="start" font-size="12" font-weight="normal" >150</text>
<text transform="translate(992.0,440.0) scale(0.900,1)" fill="#008000" text-anchor="start" font-size="12" font-weight="normal" >120</text>
<text transform="translate(992.0,487.0) scale(0.900,1)" fill="#008000" text-anchor="start" font-size="12" font-weight="normal" >90 O</text>
<text transform="translate(992.0,534.0) scale(0.900,1)" fill="#008000" text-anchor="start" font-size="12" font-weight="normal" >60</text>
<text transform="translate(992.0,580.0) scale(0.900,1)" fill="#008000" text-anchor="start" font-size="12" font-weight="normal" >30</text>
<text transform="translate(992.0,627.0) scale(0.900,1)" fill="#008000" text-anchor="start" font-size="12" font-weight="normal" >0</text>
<text transform="translate(1010.0,627.0) scale(0.900,1)" fill="#008000" text-anchor="start" font-size="12" font-weight="normal" >N</text>
<text transform="translate(151.5,641.0) scale(0.900,1)" fill="#000" text-anchor="middle" font-size="12" font-weight="normal" >00:00</text>
<text transform="translate(214.8,641.0) scale(0.900,1)" fill="#000" text-anchor="middle" font-size="12" font-weight="normal" >02:00</text>
<text transform="translate(278.2,641.0) scale(0.900,1)" fill="#000" text-anchor="middle" font-size="12" font-weight="normal" >04:00</text>
<text transform="translate(341.5,641.0) scale(0.900,1)" fill="#000" text-anchor="middle" font-size="12" font-weight="normal" >06:00</text>
<text transform="translate(404.8,641.0) scale(0.900,1)" fill="#000" text-anchor="middle" font-size="12" font-weight="normal" >08:00</text>
<text transform="translate(468.2,641.0) scale(0.900,1)" fill="#000" text-anchor="middle" font-size="12" font-weight="normal" >10:00</text>
<text transform="translate(531.5,641.0) scale(0.900,1)" fill="#000" text-anchor="middle" font-size="12" font-weight="normal" >12:00</text>
<text transform="translate(594.8,641.0) scale(0.900,1)" fill="#000" text-anchor="middle" font-size="12" font-weight="normal" >14:00</text>
<text transform="translate(658.2,641.0) scale(0.900,1)" fill="#000" text-anchor="middle" font-size="12" font-weight="normal" >16:00</text>
<text transform="translate(721.5,641.0) scale(0.900,1)" fill="#000" text-anchor="middle" font-size="12" font-weight="normal" >18:00</text>
<text transform="translate(784.8,641.0) scale(0.900,1)" fill="#000" text-anchor="middle" font-size="12" font-weight="normal" >20:00</text>
<text transform="translate(848.2,641.0) scale(0.900,1)" fill="#000" text-anchor="middle" font-size="12" font-weight="normal" >22:00</text>
<text transform="translate(911.5,641.0) scale(0.900,1)" fill="#000" text-anchor="middle" font-size="12" font-weight="normal" >24:00</text>
<text transform="translate(10.0,652.0) scale(0.900,1)" fill="#000" text-anchor="start" font-size="12" font-weight="normal" >07:51</text>
<text transform="translate(285.0,652.0) scale(0.900,1)" fill="#000" text-anchor="start" font-size="12" font-weight="normal" >03:59</text>
<text transform="translate(376.0,652.0) scale(0.900,1)" fill="#000" text-anchor="start" font-size="12" font-weight="normal" >08:08</text>
<text transform="translate(574.0,652.0) scale(0.900,1)" fill="#000" text-anchor="start" font-size="12" font-weight="normal" >13:08</text>
<text transform="translate(625.0,652.0) scale(0.900,1)" fill="#000" text-anchor="start" font-size="12" font-weight="normal" >16:00</text>
<text transform="translate(8.0,673.0) scale(0.975,1)" fill="#000" text-anchor="start" font-size="12" font-weight="bold" >Sensor</text>
<text transform="translate(8.0,689.0) scale(0.975,1)" fill="#000" text-anchor="start" font-size="12" font-weight="bold" >MinWert</text>
<text transform="translate(8.0,705.0) scale(0.975,1)" fill="#000" text-anchor="start" font-size="12" font-weight="bold" >MaxWert</text>
<text transform="translate(8.0,721.0) scale(0.975,1)" fill="#000" text-anchor="start" font-size="12" font-weight="bold" >Durchschnitt</text>
<text transform="translate(95.0,673.0) scale(0.975,1)" fill="#000" text-anchor="start" font-size="12" font-weight="bold" >Temp. 2 m</text>
<text transform="translate(199.0,673.0) scale(0.975,1)" fill="#000" text-anchor="end" font-size="12" font-weight="bold" >°C</text>
<text transform="translate(100.0,689.0) scale(0.900,1)" fill="#000" text-anchor="start" font-size="12" font-weight="normal" >23:58</text>
<text transform="translate(199.0,689.0) scale(0.900,1)" fill="#000" text-anchor="end" font-size="12" font-weight="normal" >0.2</text>
<text transform="translate(100.0,705.0) scale(0.900,1)" fill="#000" text-anchor="start" font-size="12" font-weight="normal" >11:38</text>
<text transform="translate(199.0,705.0) scale(0.900,1)" fill="#000" text-anchor="end" font-size="12" font-weight="normal" >3.1</text>
<text transform="translate(100.0,721.0) scale(0.900,1)" fill="#000" text-anchor="start" font-size="12" font-weight="normal" >(+ 0.22 )</text>
<text transform="translate(199.0,721.0) scale(0.900,1)" fill="#000" text-anchor="end" font-size="12" font-weight="normal" >1.72</text>
<text transform="translate(212.0,673.0) scale(0.975,1)" fill="#000" text-anchor="start" font-size="12" font-weight="bold" >Windchill</text>
<text transform="translate(317.0,673.0) scale(0.975,1)" fill="#000" text-anchor="end" font-size="12" font-weight="bold" >°C</text>
<text transform="translate(217.0,689.0) scale(0.900,1)" fill="#000" text-anchor="start" font-size="12" font-weight="normal" >21:18</text>
<text transform="translate(317.0,689.0) scale(0.900,1)" fill="#000" text-anchor="end" font-size="12" font-weight="normal" >-3.3</text>
<text transform="translate(217.0,705.0) scale(0.900,1)" fill="#000" text-anchor="start" font-size="12" font-weight="normal" >11:38</text>
<text transform="translate(317.0,705.0) scale(0.900,1)" fill="#000" text-anchor="end" font-size="12" font-weight="normal" >3.1</text>
<text transform="translate(317.0,721.0) scale(0.900,1)" fill="#000" text-anchor="end" font-size="12" font-weight="normal" >1.2</text>
<text transform="translate(331.0,673.0) scale(0.975,1)" fill="#000" text-anchor="start" font-size="12" font-weight="bold" >Temp. Boden</text>
<text transform="translate(434.0,673.0) scale(0.975,1)" fill="#000" text-anchor="end" font-size="12" font-weight="bold" >°C</text>
<text transform="translate(336.0,689.0) scale(0.900,1)" fill="#000" text-anchor="start" font-size="12" font-weight="normal" >23:48</text>
<text transform="translate(434.0,689.0) scale(0.900,1)" fill="#000" text-anchor="end" font-size="12" font-weight="normal" >0.6</text>
<text transform="translate(336.0,705.0) scale(0.900,1)" fill="#000" text-anchor="start" font-size="12" font-weight="normal" >12:28</text>
<text transform="translate(434.0,705.0) scale(0.900,1)" fill="#000" text-anchor="end" font-size="12" font-weight="normal" >3.9</text>
<text transform="translate(434.0,721.0) scale(0.900,1)" fill="#000" text-anchor="end" font-size="12" font-weight="normal" >2.21</text>
<text transform="translate(448.0,673.0) scale(0.975,1)" fill="#000" text-anchor="start" font-size="12" font-weight="bold" >Luftdruck</text>
<text transform="translate(552.0,673.0) scale(0.975,1)" fill="#000" text-anchor="end" font-size="12" font-weight="bold" >hPa</text>
<text transform="translate(454.0,689.0) scale(0.900,1)" fill="#000" text-anchor="start" font-size="12" font-weight="normal" >16:32</text>
<text transform="translate(552.0,689.0) scale(0.900,1)" fill="#000" text-anchor="end" font-size="12" font-weight="normal" >1024.1</text>
<text transform="translate(454.0,705.0) scale(0.900,1)" fill="#000" text-anchor="start" font-size="12" font-weight="normal" >09:22</text>
<text transform="translate(552.0,705.0) scale(0.900,1)" fill="#000" text-anchor="end" font-size="12" font-weight="normal" >1026.1</text>
<text transform="translate(448.0,721.0) scale(0.900,1)" fill="#000" text-anchor="start" font-size="12" font-weight="normal" >^1.0hPa/h</text>
<text transform="translate(552.0,721.0) scale(0.900,1)" fill="#000" text-anchor="end" font-size="12" font-weight="normal" >1025.0</text>
<text transform="translate(566.0,673.0) scale(0.975,1)" fill="#000" text-anchor="start" font-size="12" font-weight="bold" >Windböen</text>
<text transform="translate(670.0,673.0) scale(0.975,1)" fill="#000" text-anchor="end" font-size="12" font-weight="bold" >km/h</text>
<text transform="translate(566.0,689.0) scale(0.900,1)" fill="#000" text-anchor="start" font-size="12" font-weight="normal" >Ø 10 min.</text>
<text transform="translate(670.0,689.0) scale(0.900,1)" fill="#000" text-anchor="end" font-size="12" font-weight="normal" >7.6</text>
<text transform="translate(572.0,705.0) scale(0.900,1)" fill="#000" text-anchor="start" font-size="12" font-weight="normal" >21:16</text>
<text transform="translate(670.0,705.0) scale(0.900,1)" fill="#000" text-anchor="end" font-size="12" font-weight="normal" >O-NO 19.0</text>
<text transform="translate(572.0,721.0) scale(0.900,1)" fill="#000" text-anchor="start" font-size="12" font-weight="normal" >53.5 km</text>
<text transform="translate(670.0,721.0) scale(0.900,1)" fill="#000" text-anchor="end" font-size="12" font-weight="normal" >2.2</text>
<text transform="translate(684.0,673.0) scale(0.975,1)" fill="#000" text-anchor="start" font-size="12" font-weight="bold" >Regen</text>
<text transform="translate(788.0,673.0) scale(0.975,1)" fill="#000" text-anchor="end" font-size="12" font-weight="bold" >l/m²</text>
<text transform="translate(684.0,689.0) scale(0.900,1)" fill="#000" text-anchor="start" font-size="12" font-weight="normal" >28 min.</text>
<text transform="translate(690.0,705.0) scale(0.900,1)" fill="#000" text-anchor="start" font-size="12" font-weight="normal" >19:12</text>
<text transform="translate(788.0,705.0) scale(0.900,1)" fill="#000" text-anchor="end" font-size="12" font-weight="normal" >0.2</text>
<text transform="translate(684.0,721.0) scale(0.900,1)" fill="#000" text-anchor="start" font-size="12" font-weight="normal" >Gesamt:</text>
<text transform="translate(788.0,721.0) scale(0.900,1)" fill="#000" text-anchor="end" font-size="12" font-weight="normal" >1.5</text>
<text transform="translate(803.0,673.0) scale(0.975,1)" fill="#000" text-anchor="start" font-size="12" font-weight="bold" >Sonne-Zeit</text>
<text transform="translate(906.0,673.0) scale(0.975,1)" fill="#000" text-anchor="end" font-size="12" font-weight="bold" >min</text>
<text transform="translate(809.0,705.0) scale(0.900,1)" fill="#000" text-anchor="start" font-size="12" font-weight="normal" >23:58</text>
<text transform="translate(906.0,705.0) scale(0.900,1)" fill="#000" text-anchor="end" font-size="12" font-weight="normal" >0</text>
<text transform="translate(803.0,721.0) scale(0.900,1)" fill="#000" text-anchor="start" font-size="12" font-weight="normal" >0 min.</text>
<text transform="translate(906.0,721.0) scale(0.900,1)" fill="#000" text-anchor="end" font-size="12" font-weight="normal" >0.0</text>
<text transform="translate(921.0,673.0) scale(0.900,1)" fill="#000" text-anchor="start" font-size="12" font-weight="normal" >Wolkenunterg</text>
<text transform="translate(1022.0,673.0) scale(0.900,1)" fill="#000" text-anchor="end" font-size="12" font-weight="normal" >64m</text>
<text transform="translate(921.0,689.0) scale(0.900,1)" fill="#000" text-anchor="start" font-size="12" font-weight="normal" >Sichtweite</text>
<text transform="translate(1022.0,689.0) scale(0.900,1)" fill="#000" text-anchor="end" font-size="12" font-weight="normal" >2-5km</text>
<text transform="translate(921.0,705.0) scale(0.900,1)" fill="#000" text-anchor="start" font-size="12" font-weight="normal" >Regen/Tag</text>
<text transform="translate(1022.0,705.0) scale(0.900,1)" fill="#000" text-anchor="end" font-size="12" font-weight="normal" >1.5l/m²</text>
<text transform="translate(921.0,721.0) scale(0.900,1)" fill="#000" text-anchor="start" font-size="12" font-weight="normal" >Neumond</text>
<text transform="translate(1022.0,721.0) scale(0.900,1)" fill="#000" text-anchor="end" font-size="12" font-weight="normal" >16.12.09</text>
</g>
</svg></body></html>
